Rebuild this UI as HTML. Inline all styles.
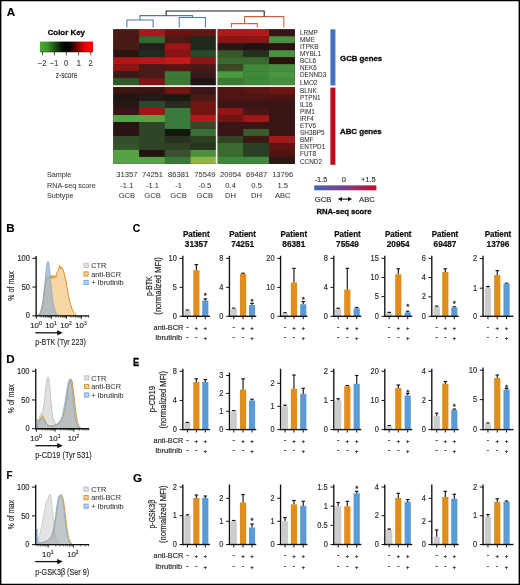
<!DOCTYPE html>
<html lang="en">
<head>
<meta charset="utf-8">
<title>Figure</title>
<style>
html,body{margin:0;padding:0;background:#fff;}
body{width:520px;height:585px;overflow:hidden;}
svg{display:block;font-family:"Liberation Sans", sans-serif;}
</style>
</head>
<body>
<svg width="520" height="585" viewBox="0 0 520 585">
<defs>
<linearGradient id="gkey" x1="0" x2="1" y1="0" y2="0">
<stop offset="0" stop-color="#4aac2e"/><stop offset="0.14" stop-color="#3c9626"/><stop offset="0.38" stop-color="#0c2006"/><stop offset="0.46" stop-color="#020202"/><stop offset="0.56" stop-color="#050000"/><stop offset="0.76" stop-color="#a50000"/><stop offset="0.9" stop-color="#ff0202"/><stop offset="1" stop-color="#ee0505"/>
</linearGradient>
<linearGradient id="grna" x1="0" x2="1" y1="0" y2="0">
<stop offset="0" stop-color="#4468bd"/><stop offset="0.5" stop-color="#803a82"/><stop offset="1" stop-color="#c20d2a"/>
</linearGradient>
</defs>
<rect x="0" y="0" width="520" height="585" fill="#fff"/>
<g id="panelA">
<text x="6.7" y="15.5" font-size="11.6" font-weight="bold" fill="#000" stroke="#000" stroke-width="0.15">A</text>
<text x="66.3" y="35.3" font-size="7.9" font-weight="bold" text-anchor="middle" fill="#111" stroke="#000" stroke-width="0.3">Color Key</text>
<rect x="39.9" y="41.6" width="53.1" height="10.4" fill="url(#gkey)"/>
<line x1="39.9" y1="52" x2="93" y2="52" stroke="#2a1a10" stroke-width="0.7" stroke-opacity="0.7"/>
<line x1="42.5" y1="51.9" x2="42.5" y2="55.4" stroke="#222" stroke-width="0.8" />
<line x1="54.4" y1="51.9" x2="54.4" y2="55.4" stroke="#222" stroke-width="0.8" />
<line x1="66.3" y1="51.9" x2="66.3" y2="55.4" stroke="#222" stroke-width="0.8" />
<line x1="78.6" y1="51.9" x2="78.6" y2="55.4" stroke="#222" stroke-width="0.8" />
<line x1="90.8" y1="51.9" x2="90.8" y2="55.4" stroke="#222" stroke-width="0.8" />
<text x="42.2" y="65.6" font-size="8.3" text-anchor="middle" fill="#444" stroke="#444" stroke-width="0.16" textLength="8.8" lengthAdjust="spacingAndGlyphs">−2</text>
<text x="54.2" y="65.6" font-size="8.3" text-anchor="middle" fill="#444" stroke="#444" stroke-width="0.16" textLength="8.2" lengthAdjust="spacingAndGlyphs">−1</text>
<text x="66.1" y="65.6" font-size="8.3" text-anchor="middle" fill="#444" stroke="#444" stroke-width="0.16" textLength="4.2" lengthAdjust="spacingAndGlyphs">0</text>
<text x="78.9" y="65.6" font-size="8.3" text-anchor="middle" fill="#444" stroke="#444" stroke-width="0.16" textLength="4.2" lengthAdjust="spacingAndGlyphs">1</text>
<text x="90.7" y="65.6" font-size="8.3" text-anchor="middle" fill="#444" stroke="#444" stroke-width="0.16" textLength="4.2" lengthAdjust="spacingAndGlyphs">2</text>
<text x="66.6" y="77.6" font-size="8.6" text-anchor="middle" fill="#444" stroke="#444" stroke-width="0.16" textLength="21.6" lengthAdjust="spacingAndGlyphs">z-score</text>
<path d="M126.9 27.6V19.9H153.1V27.6 M179.2 27.6V17.4H205.4V27.6 M139.9 19.9V15.6H192.5V17.4" stroke="#4f74ad" fill="none" stroke-width="1.05" />
<path d="M231.4 27.6V23.6H257.3V27.6 M244.6 23.6V16.6H283.8V27.6" stroke="#c9603f" fill="none" stroke-width="1.05" />
<path d="M166.2 15.6V11H264.2V16.6" stroke="#1a1a1a" fill="none" stroke-width="1.05" />
<g>
<rect x="113.3" y="29.3" width="181.6" height="134.58" fill="#3a1a15" />
<rect x="113.3" y="29.3" width="26.05" height="7.28" fill="#4a1a16" />
<rect x="139.05" y="29.3" width="26.05" height="7.28" fill="#a51a1a" />
<rect x="164.8" y="29.3" width="26.05" height="7.28" fill="#6c1210" />
<rect x="190.55" y="29.3" width="26.35" height="7.28" fill="#651512" />
<rect x="216.6" y="29.3" width="26.9" height="7.28" fill="#ad1a1a" />
<rect x="243.2" y="29.3" width="26.1" height="7.28" fill="#b01a1a" />
<rect x="269" y="29.3" width="25.9" height="7.28" fill="#381512" />
<rect x="113.3" y="36.28" width="26.05" height="7.28" fill="#4a1a16" />
<rect x="139.05" y="36.28" width="26.05" height="7.28" fill="#2f6a32" />
<rect x="164.8" y="36.28" width="26.05" height="7.28" fill="#4a1a16" />
<rect x="190.55" y="36.28" width="26.35" height="7.28" fill="#1f2a1f" />
<rect x="216.6" y="36.28" width="52.7" height="7.28" fill="#8a1515" />
<rect x="269" y="36.28" width="25.9" height="7.28" fill="#4a9040" />
<rect x="113.3" y="43.26" width="26.05" height="7.28" fill="#481a16" />
<rect x="139.05" y="43.26" width="26.05" height="7.28" fill="#241f1a" />
<rect x="164.8" y="43.26" width="26.05" height="7.28" fill="#9e1515" />
<rect x="190.55" y="43.26" width="26.35" height="7.28" fill="#1f2a1f" />
<rect x="216.6" y="43.26" width="26.9" height="7.28" fill="#2a1515" />
<rect x="243.2" y="43.26" width="26.1" height="7.28" fill="#1f1210" />
<rect x="269" y="43.26" width="25.9" height="7.28" fill="#2a1210" />
<rect x="113.3" y="50.24" width="26.05" height="7.28" fill="#2a1412" />
<rect x="139.05" y="50.24" width="26.05" height="7.28" fill="#1f2a20" />
<rect x="164.8" y="50.24" width="26.05" height="7.28" fill="#8a1212" />
<rect x="190.55" y="50.24" width="26.35" height="7.28" fill="#2a4a28" />
<rect x="216.6" y="50.24" width="26.9" height="7.28" fill="#38582a" />
<rect x="243.2" y="50.24" width="26.1" height="7.28" fill="#25301f" />
<rect x="269" y="50.24" width="25.9" height="7.28" fill="#4a9040" />
<rect x="113.3" y="57.22" width="26.05" height="7.28" fill="#b01818" />
<rect x="139.05" y="57.22" width="26.05" height="7.28" fill="#b81818" />
<rect x="164.8" y="57.22" width="26.05" height="7.28" fill="#c41a1a" />
<rect x="190.55" y="57.22" width="26.35" height="7.28" fill="#8a1515" />
<rect x="216.6" y="57.22" width="52.7" height="7.28" fill="#3a6a30" />
<rect x="269" y="57.22" width="25.9" height="7.28" fill="#2a1210" />
<rect x="113.3" y="64.2" width="26.05" height="7.28" fill="#8e1515" />
<rect x="139.05" y="64.2" width="26.05" height="7.28" fill="#4a1a16" />
<rect x="164.8" y="64.2" width="26.05" height="7.28" fill="#5a1512" />
<rect x="190.55" y="64.2" width="26.35" height="7.28" fill="#4a1a18" />
<rect x="216.6" y="64.2" width="26.9" height="7.28" fill="#3a4a25" />
<rect x="243.2" y="64.2" width="26.1" height="7.28" fill="#3f8a3a" />
<rect x="269" y="64.2" width="25.9" height="7.28" fill="#45903f" />
<rect x="113.3" y="71.18" width="26.05" height="7.28" fill="#3a1a15" />
<rect x="139.05" y="71.18" width="26.05" height="7.28" fill="#4a1a18" />
<rect x="164.8" y="71.18" width="26.05" height="7.28" fill="#3a7a36" />
<rect x="190.55" y="71.18" width="26.35" height="7.28" fill="#3a1a18" />
<rect x="216.6" y="71.18" width="26.9" height="7.28" fill="#4a9a40" />
<rect x="243.2" y="71.18" width="26.1" height="7.28" fill="#3f8a3a" />
<rect x="269" y="71.18" width="25.9" height="7.28" fill="#4a9540" />
<rect x="113.3" y="78.16" width="26.05" height="8.24" fill="#2f5a2a" />
<rect x="139.05" y="78.16" width="26.05" height="8.24" fill="#801515" />
<rect x="164.8" y="78.16" width="26.05" height="8.24" fill="#3a7a36" />
<rect x="190.55" y="78.16" width="26.35" height="8.24" fill="#1f1512" />
<rect x="216.6" y="78.16" width="26.9" height="8.24" fill="#3a7a35" />
<rect x="243.2" y="78.16" width="26.1" height="8.24" fill="#3f8a3a" />
<rect x="269" y="78.16" width="25.9" height="8.24" fill="#45903f" />
<rect x="113.3" y="86.1" width="51.8" height="8.28" fill="#3a1512" />
<rect x="164.8" y="86.1" width="26.05" height="8.28" fill="#701512" />
<rect x="190.55" y="86.1" width="26.35" height="8.28" fill="#3a1515" />
<rect x="216.6" y="86.1" width="26.9" height="8.28" fill="#501512" />
<rect x="243.2" y="86.1" width="26.1" height="8.28" fill="#5a1515" />
<rect x="269" y="86.1" width="25.9" height="8.28" fill="#701512" />
<rect x="113.3" y="94.08" width="26.05" height="7.28" fill="#1f1512" />
<rect x="139.05" y="94.08" width="26.05" height="7.28" fill="#251a15" />
<rect x="164.8" y="94.08" width="26.05" height="7.28" fill="#1a1a12" />
<rect x="190.55" y="94.08" width="26.35" height="7.28" fill="#4a1a15" />
<rect x="216.6" y="94.08" width="52.7" height="7.28" fill="#501512" />
<rect x="269" y="94.08" width="25.9" height="7.28" fill="#4a1512" />
<rect x="113.3" y="101.06" width="26.05" height="7.28" fill="#2a1515" />
<rect x="139.05" y="101.06" width="26.05" height="7.28" fill="#2a4a30" />
<rect x="164.8" y="101.06" width="26.05" height="7.28" fill="#2a2a1f" />
<rect x="190.55" y="101.06" width="26.35" height="7.28" fill="#701512" />
<rect x="216.6" y="101.06" width="78.3" height="7.28" fill="#3a1515" />
<rect x="113.3" y="108.04" width="26.05" height="7.28" fill="#3a1515" />
<rect x="139.05" y="108.04" width="26.05" height="7.28" fill="#a01515" />
<rect x="164.8" y="108.04" width="26.05" height="7.28" fill="#3a7a3a" />
<rect x="190.55" y="108.04" width="26.35" height="7.28" fill="#751512" />
<rect x="216.6" y="108.04" width="26.9" height="7.28" fill="#901515" />
<rect x="243.2" y="108.04" width="26.1" height="7.28" fill="#4a1515" />
<rect x="269" y="108.04" width="25.9" height="7.28" fill="#3a1515" />
<rect x="113.3" y="115.02" width="51.8" height="7.28" fill="#55a344" />
<rect x="164.8" y="115.02" width="26.05" height="7.28" fill="#3a7a3a" />
<rect x="190.55" y="115.02" width="26.35" height="7.28" fill="#b01a1a" />
<rect x="216.6" y="115.02" width="26.9" height="7.28" fill="#701512" />
<rect x="243.2" y="115.02" width="26.1" height="7.28" fill="#a01818" />
<rect x="269" y="115.02" width="25.9" height="7.28" fill="#3a1515" />
<rect x="113.3" y="122" width="26.05" height="7.28" fill="#2a1515" />
<rect x="139.05" y="122" width="26.05" height="7.28" fill="#2f4525" />
<rect x="164.8" y="122" width="26.05" height="7.28" fill="#3a7a3a" />
<rect x="190.55" y="122" width="26.35" height="7.28" fill="#2f4a28" />
<rect x="216.6" y="122" width="78.3" height="7.28" fill="#3a1515" />
<rect x="113.3" y="128.98" width="26.05" height="7.28" fill="#2a1512" />
<rect x="139.05" y="128.98" width="26.05" height="7.28" fill="#2f4525" />
<rect x="164.8" y="128.98" width="26.05" height="7.28" fill="#15180f" />
<rect x="190.55" y="128.98" width="26.35" height="7.28" fill="#3a7035" />
<rect x="216.6" y="128.98" width="26.9" height="7.28" fill="#3a1515" />
<rect x="243.2" y="128.98" width="26.1" height="7.28" fill="#3a5a30" />
<rect x="269" y="128.98" width="25.9" height="7.28" fill="#3a1515" />
<rect x="113.3" y="135.96" width="26.05" height="7.28" fill="#34502a" />
<rect x="139.05" y="135.96" width="26.05" height="7.28" fill="#2f4525" />
<rect x="164.8" y="135.96" width="26.05" height="7.28" fill="#2a3020" />
<rect x="190.55" y="135.96" width="26.35" height="7.28" fill="#2a4020" />
<rect x="216.6" y="135.96" width="26.9" height="7.28" fill="#2f4525" />
<rect x="243.2" y="135.96" width="26.1" height="7.28" fill="#3a1a15" />
<rect x="269" y="135.96" width="25.9" height="7.28" fill="#a01a1a" />
<rect x="113.3" y="142.94" width="26.05" height="7.28" fill="#34552a" />
<rect x="139.05" y="142.94" width="26.05" height="7.28" fill="#2f4525" />
<rect x="164.8" y="142.94" width="26.05" height="7.28" fill="#2f4025" />
<rect x="190.55" y="142.94" width="26.35" height="7.28" fill="#25351f" />
<rect x="216.6" y="142.94" width="26.9" height="7.28" fill="#3a6a30" />
<rect x="243.2" y="142.94" width="26.1" height="7.28" fill="#2a4025" />
<rect x="269" y="142.94" width="25.9" height="7.28" fill="#601512" />
<rect x="113.3" y="149.92" width="26.05" height="7.28" fill="#55a344" />
<rect x="139.05" y="149.92" width="26.05" height="7.28" fill="#251512" />
<rect x="164.8" y="149.92" width="26.05" height="7.28" fill="#3a5030" />
<rect x="190.55" y="149.92" width="26.35" height="7.28" fill="#4a9040" />
<rect x="216.6" y="149.92" width="26.9" height="7.28" fill="#3a6a30" />
<rect x="243.2" y="149.92" width="26.1" height="7.28" fill="#2a4025" />
<rect x="269" y="149.92" width="25.9" height="7.28" fill="#501512" />
<rect x="113.3" y="156.9" width="51.8" height="6.98" fill="#55a344" />
<rect x="164.8" y="156.9" width="26.05" height="6.98" fill="#357a35" />
<rect x="190.55" y="156.9" width="26.35" height="6.98" fill="#90b840" />
<rect x="216.6" y="156.9" width="52.7" height="6.98" fill="#3f8a3a" />
<rect x="269" y="156.9" width="25.9" height="6.98" fill="#2a1a12" />
<line x1="216.65" y1="29" x2="216.65" y2="164.18" stroke="#f6f2f2" stroke-width="1.6" />
<line x1="113" y1="86.1" x2="295.2" y2="86.1" stroke="#f6f2f2" stroke-width="1.6" />
</g>
<text x="300" y="34.8" font-size="6.4" fill="#333" stroke="#333" stroke-width="0.06">LRMP</text>
<text x="300" y="41.9" font-size="6.4" fill="#333" stroke="#333" stroke-width="0.06">MME</text>
<text x="300" y="49" font-size="6.4" fill="#333" stroke="#333" stroke-width="0.06">ITPKB</text>
<text x="300" y="56.1" font-size="6.4" fill="#333" stroke="#333" stroke-width="0.06">MYBL1</text>
<text x="300" y="63.2" font-size="6.4" fill="#333" stroke="#333" stroke-width="0.06">BCL6</text>
<text x="300" y="70.3" font-size="6.4" fill="#333" stroke="#333" stroke-width="0.06">NEK6</text>
<text x="300" y="77.4" font-size="6.4" fill="#333" stroke="#333" stroke-width="0.06">DENND3</text>
<text x="300" y="84.5" font-size="6.4" fill="#333" stroke="#333" stroke-width="0.06">LMO2</text>
<text x="300" y="92.5" font-size="6.4" fill="#333" stroke="#333" stroke-width="0.06">BLNK</text>
<text x="300" y="99.6" font-size="6.4" fill="#333" stroke="#333" stroke-width="0.06">PTPN1</text>
<text x="300" y="106.7" font-size="6.4" fill="#333" stroke="#333" stroke-width="0.06">IL16</text>
<text x="300" y="113.8" font-size="6.4" fill="#333" stroke="#333" stroke-width="0.06">PIM1</text>
<text x="300" y="120.9" font-size="6.4" fill="#333" stroke="#333" stroke-width="0.06">IRF4</text>
<text x="300" y="128" font-size="6.4" fill="#333" stroke="#333" stroke-width="0.06">ETV6</text>
<text x="300" y="135.1" font-size="6.4" fill="#333" stroke="#333" stroke-width="0.06">SH3BP5</text>
<text x="300" y="142.2" font-size="6.4" fill="#333" stroke="#333" stroke-width="0.06">BMF</text>
<text x="300" y="149.3" font-size="6.4" fill="#333" stroke="#333" stroke-width="0.06">ENTPD1</text>
<text x="300" y="156.4" font-size="6.4" fill="#333" stroke="#333" stroke-width="0.06">FUT8</text>
<text x="300" y="163.5" font-size="6.4" fill="#333" stroke="#333" stroke-width="0.06">CCND2</text>
<rect x="330.4" y="29.3" width="5" height="56.2" fill="#4673c0" />
<rect x="330.4" y="87.6" width="5" height="77.2" fill="#c10a1c" />
<text x="340.1" y="60.9" font-size="7.8" font-weight="bold" fill="#111" stroke="#000" stroke-width="0.3">GCB genes</text>
<text x="340.1" y="133.8" font-size="7.8" font-weight="bold" fill="#111" stroke="#000" stroke-width="0.3">ABC genes</text>
<text x="47" y="177.1" font-size="7.2" fill="#383838" stroke="#383838" stroke-width="0.05">Sample</text>
<text x="47" y="187.8" font-size="7.2" fill="#383838" stroke="#383838" stroke-width="0.05">RNA-seq score</text>
<text x="47" y="198.3" font-size="7.2" fill="#383838" stroke="#383838" stroke-width="0.05">Subtype</text>
<text x="126.9" y="177.1" font-size="7.6" text-anchor="middle" fill="#383838" stroke="#383838" stroke-width="0.05">31357</text>
<text x="152.5" y="177.1" font-size="7.6" text-anchor="middle" fill="#383838" stroke="#383838" stroke-width="0.05">74251</text>
<text x="178.6" y="177.1" font-size="7.6" text-anchor="middle" fill="#383838" stroke="#383838" stroke-width="0.05">86381</text>
<text x="204.8" y="177.1" font-size="7.6" text-anchor="middle" fill="#383838" stroke="#383838" stroke-width="0.05">75549</text>
<text x="230.6" y="177.1" font-size="7.6" text-anchor="middle" fill="#383838" stroke="#383838" stroke-width="0.05">20954</text>
<text x="256.6" y="177.1" font-size="7.6" text-anchor="middle" fill="#383838" stroke="#383838" stroke-width="0.05">69487</text>
<text x="282.7" y="177.1" font-size="7.6" text-anchor="middle" fill="#383838" stroke="#383838" stroke-width="0.05">13796</text>
<text x="126.9" y="187.8" font-size="7.6" text-anchor="middle" fill="#383838" stroke="#383838" stroke-width="0.05">-1.1</text>
<text x="152.5" y="187.8" font-size="7.6" text-anchor="middle" fill="#383838" stroke="#383838" stroke-width="0.05">-1.1</text>
<text x="178.6" y="187.8" font-size="7.6" text-anchor="middle" fill="#383838" stroke="#383838" stroke-width="0.05">-1</text>
<text x="204.8" y="187.8" font-size="7.6" text-anchor="middle" fill="#383838" stroke="#383838" stroke-width="0.05">-0.5</text>
<text x="230.6" y="187.8" font-size="7.6" text-anchor="middle" fill="#383838" stroke="#383838" stroke-width="0.05">0.4</text>
<text x="256.6" y="187.8" font-size="7.6" text-anchor="middle" fill="#383838" stroke="#383838" stroke-width="0.05">0.5</text>
<text x="282.7" y="187.8" font-size="7.6" text-anchor="middle" fill="#383838" stroke="#383838" stroke-width="0.05">1.5</text>
<text x="126.9" y="198.3" font-size="7.6" text-anchor="middle" fill="#383838" stroke="#383838" stroke-width="0.05">GCB</text>
<text x="152.5" y="198.3" font-size="7.6" text-anchor="middle" fill="#383838" stroke="#383838" stroke-width="0.05">GCB</text>
<text x="178.6" y="198.3" font-size="7.6" text-anchor="middle" fill="#383838" stroke="#383838" stroke-width="0.05">GCB</text>
<text x="204.8" y="198.3" font-size="7.6" text-anchor="middle" fill="#383838" stroke="#383838" stroke-width="0.05">GCB</text>
<text x="230.6" y="198.3" font-size="7.6" text-anchor="middle" fill="#383838" stroke="#383838" stroke-width="0.05">DH</text>
<text x="256.6" y="198.3" font-size="7.6" text-anchor="middle" fill="#383838" stroke="#383838" stroke-width="0.05">DH</text>
<text x="282.7" y="198.3" font-size="7.6" text-anchor="middle" fill="#383838" stroke="#383838" stroke-width="0.05">ABC</text>
<text x="321" y="182.4" font-size="7.4" text-anchor="middle" fill="#333" stroke="#333" stroke-width="0.16">-1.5</text>
<text x="343.8" y="182.4" font-size="7.4" text-anchor="middle" fill="#333" stroke="#333" stroke-width="0.16">0</text>
<text x="368.3" y="182.4" font-size="7.4" text-anchor="middle" fill="#333" stroke="#333" stroke-width="0.16">+1.5</text>
<rect x="314.2" y="185.4" width="62.2" height="4.9" fill="url(#grna)"/>
<text x="314.8" y="201.8" font-size="7.7" fill="#333" stroke="#333" stroke-width="0.16">GCB</text>
<text x="359" y="201.8" font-size="7.7" fill="#333" stroke="#333" stroke-width="0.16">ABC</text>
<line x1="340.5" y1="199.1" x2="349.5" y2="199.1" stroke="#111" stroke-width="1.1" />
<path d="M337.8 199.1L342 196.9V201.3Z M352.2 199.1L348 196.9V201.3Z" stroke="none" fill="#111" stroke-width="1" />
<text x="344" y="213.6" font-size="7.7" font-weight="bold" text-anchor="middle" fill="#111" stroke="#000" stroke-width="0.3">RNA-seq score</text>
</g>
<g id="panelB">
<text x="6.2" y="232.1" font-size="11.6" font-weight="bold" fill="#000" stroke="#000" stroke-width="0.15">B</text>
<path d="M37.3 315.8L37.3 315.3C37.79 314.89 39.06 315.21 40 313C40.94 310.79 41.67 307.86 42.5 303C43.33 298.14 43.9 292.21 44.6 286C45.3 279.79 45.84 272.77 46.4 268.5C46.96 264.23 47.23 262.75 47.7 262.3C48.17 261.85 48.48 262.63 49 266C49.52 269.37 49.95 274.88 50.6 281C51.25 287.12 51.81 294.6 52.6 300C53.39 305.4 53.94 308.25 55 311C56.06 313.75 57.87 314.53 58.5 315.3L58.5 315.8Z" stroke="#b9b9b9" fill="#b4b4b4" stroke-width="0.6" fill-opacity="0.45" stroke-linejoin="round"/>
<path d="M38 315.8L38 315.3C38.45 314.92 39.62 315.32 40.5 313.2C41.38 311.08 42.13 307.86 42.9 303.5C43.67 299.14 44.21 293.14 44.8 289C45.39 284.86 45.77 282.59 46.2 280.5C46.63 278.41 46.8 277.81 47.2 277.4C47.6 276.99 47.93 278.45 48.4 278.2C48.87 277.95 49.37 275.93 49.8 276C50.23 276.07 50.4 278.71 50.8 278.6C51.2 278.49 51.57 275.44 52 275.4C52.43 275.36 52.77 278.47 53.2 278.4C53.63 278.33 53.97 275.04 54.4 275C54.83 274.96 55.17 278.56 55.6 278.2C56.03 277.84 56.33 274.37 56.8 273C57.27 271.63 57.7 271.99 58.2 270.6C58.7 269.21 59.13 265.62 59.6 265.3C60.07 264.98 60.4 268.42 60.8 268.8C61.2 269.18 61.44 267.33 61.8 267.4C62.16 267.47 62.37 268.1 62.8 269.2C63.23 270.3 63.64 271.38 64.2 273.5C64.76 275.62 65.29 277.85 65.9 281C66.51 284.15 66.97 287.58 67.6 291C68.23 294.42 68.72 297.12 69.4 300C70.08 302.88 70.66 304.84 71.4 307C72.14 309.16 72.58 310.51 73.5 312C74.42 313.49 75.96 314.71 76.5 315.3L76.5 315.8Z" stroke="#d48f22" fill="#f1b252" stroke-width="1" fill-opacity="0.52" stroke-linejoin="round"/>
<path d="M37.3 315.8L37.3 315.3C37.82 314.89 39.21 315.39 40.2 313C41.19 310.61 41.97 307.04 42.8 302C43.63 296.96 44.12 291.21 44.8 285C45.48 278.79 46.04 271.75 46.6 267.5C47.16 263.25 47.43 261.67 47.9 261.4C48.37 261.13 48.68 262.29 49.2 266C49.72 269.71 50.15 275.7 50.8 282C51.45 288.3 52.01 295.69 52.8 301C53.59 306.31 54.12 308.93 55.2 311.5C56.28 314.07 58.15 314.62 58.8 315.3L58.8 315.8Z" stroke="#7eaad8" fill="#7fb0e6" stroke-width="0.7" fill-opacity="0.48" stroke-linejoin="round"/>
<line x1="36.15" y1="255.9" x2="36.15" y2="316.45" stroke="#111" stroke-width="1.35" />
<line x1="35.55" y1="315.8" x2="89.2" y2="315.8" stroke="#111" stroke-width="1.35" />
<line x1="32.35" y1="258.3" x2="36.15" y2="258.3" stroke="#111" stroke-width="1" />
<text x="29.95" y="260.95" font-size="8.2" text-anchor="end" fill="#2a2a2a" stroke="#2a2a2a" stroke-width="0.16" textLength="12.5" lengthAdjust="spacingAndGlyphs">100</text>
<line x1="32.35" y1="287.05" x2="36.15" y2="287.05" stroke="#111" stroke-width="1" />
<text x="29.95" y="289.7" font-size="8.2" text-anchor="end" fill="#2a2a2a" stroke="#2a2a2a" stroke-width="0.16" textLength="8.3" lengthAdjust="spacingAndGlyphs">50</text>
<line x1="32.35" y1="315.8" x2="36.15" y2="315.8" stroke="#111" stroke-width="1" />
<text x="29.95" y="318.45" font-size="8.2" text-anchor="end" fill="#2a2a2a" stroke="#2a2a2a" stroke-width="0.16" textLength="4.15" lengthAdjust="spacingAndGlyphs">0</text>
<text x="36" y="328" font-size="7.8" text-anchor="middle" fill="#2a2a2a" stroke="#2a2a2a" stroke-width="0.16">10<tspan dy="-3" font-size="5">0</tspan></text>
<text x="51" y="328" font-size="7.8" text-anchor="middle" fill="#2a2a2a" stroke="#2a2a2a" stroke-width="0.16">10<tspan dy="-3" font-size="5">1</tspan></text>
<text x="66" y="328" font-size="7.8" text-anchor="middle" fill="#2a2a2a" stroke="#2a2a2a" stroke-width="0.16">10<tspan dy="-3" font-size="5">2</tspan></text>
<text x="81" y="328" font-size="7.8" text-anchor="middle" fill="#2a2a2a" stroke="#2a2a2a" stroke-width="0.16">10<tspan dy="-3" font-size="5">3</tspan></text>
<path d="M36.4 315.8v3M51.4 315.8v3M66.4 315.8v3M81.4 315.8v3" stroke="#111" fill="none" stroke-width="0.9" />
<path d="M40.92 315.8v1.9M43.56 315.8v1.9M45.43 315.8v1.9M46.88 315.8v1.9M48.07 315.8v1.9M49.08 315.8v1.9M49.95 315.8v1.9M50.71 315.8v1.9M55.92 315.8v1.9M58.56 315.8v1.9M60.43 315.8v1.9M61.88 315.8v1.9M63.07 315.8v1.9M64.08 315.8v1.9M64.95 315.8v1.9M65.71 315.8v1.9M70.92 315.8v1.9M73.56 315.8v1.9M75.43 315.8v1.9M76.88 315.8v1.9M78.07 315.8v1.9M79.08 315.8v1.9M79.95 315.8v1.9M80.71 315.8v1.9M85.92 315.8v1.9M88.56 315.8v1.9" stroke="#111" fill="none" stroke-width="0.6" />
<line x1="35.3" y1="332.8" x2="58.5" y2="332.8" stroke="#111" stroke-width="1.3" />
<path d="M62.8 332.8L57.2 330.2V335.40000000000003Z" stroke="none" fill="#111" stroke-width="1" />
<text x="35.2" y="344.8" font-size="9.8" fill="#2a2a2a" stroke="#2a2a2a" stroke-width="0.16" textLength="50.6" lengthAdjust="spacingAndGlyphs">p-BTK (Tyr 223)</text>
<text x="14.1" y="285.95" font-size="9.8" text-anchor="middle" fill="#2a2a2a" stroke="#2a2a2a" stroke-width="0.16" textLength="29.5" lengthAdjust="spacingAndGlyphs" transform="rotate(-90 14.1 285.95)">% of max</text>
<rect x="84" y="263.3" width="4.2" height="4.2" fill="#e2e2e2" stroke="#bcbcbc" stroke-width="0.9"/>
<text x="91.2" y="268.05" font-size="7.35" fill="#3a3a3a" stroke="#3a3a3a" stroke-width="0.08">CTR</text>
<rect x="84" y="271.85" width="4.2" height="4.2" fill="#f3cf94" stroke="#d48f22" stroke-width="0.9"/>
<text x="91.2" y="276.6" font-size="7.35" fill="#3a3a3a" stroke="#3a3a3a" stroke-width="0.08">anti-BCR</text>
<rect x="84" y="280.4" width="4.2" height="4.2" fill="#b5d3ef" stroke="#6fa3d6" stroke-width="0.9"/>
<text x="91.2" y="285.15" font-size="7.35" fill="#3a3a3a" stroke="#3a3a3a" stroke-width="0.08">+ Ibrutinib</text>
</g>
<g id="panelD">
<text x="6.2" y="363.3" font-size="11.6" font-weight="bold" fill="#000" stroke="#000" stroke-width="0.15">D</text>
<path d="M37.3 428.7L37.3 428C37.52 427.28 37.98 426.34 38.5 424C39.02 421.66 39.57 417.07 40.2 415C40.83 412.93 41.41 413.76 42 412.5C42.59 411.24 42.96 410.97 43.5 408C44.04 405.03 44.48 400.5 45 396C45.52 391.5 45.88 386.46 46.4 383C46.92 379.54 47.4 377.16 47.9 376.8C48.4 376.44 48.71 377.36 49.2 381C49.69 384.64 50.04 391.06 50.6 397C51.16 402.94 51.63 409.59 52.3 414C52.97 418.41 53.45 419.61 54.3 421.5C55.15 423.39 55.97 424.32 57 424.5C58.03 424.68 58.92 423.85 60 422.5C61.08 421.15 61.92 420.33 63 417C64.08 413.67 65.03 409.58 66 404C66.97 398.42 67.64 390.39 68.4 386C69.16 381.61 69.59 379.96 70.2 379.6C70.81 379.24 71.22 380.33 71.8 384C72.38 387.67 72.79 394.24 73.4 400C74.01 405.76 74.48 411.5 75.2 416C75.92 420.5 76.54 422.84 77.4 425C78.26 427.16 79.53 427.46 80 428L80 428.7Z" stroke="#b9b9b9" fill="#b4b4b4" stroke-width="0.8" fill-opacity="0.4" stroke-linejoin="round"/>
<path d="M37.3 428.7L37.3 424C37.61 423.46 38.33 422.17 39 421C39.67 419.83 40.33 418.47 41 417.5C41.67 416.53 42.12 415.42 42.7 415.6C43.28 415.78 43.52 417.08 44.2 418.5C44.88 419.92 45.46 422.15 46.5 423.5C47.54 424.85 48.65 425.64 50 426C51.35 426.36 52.56 425.95 54 425.5C55.44 425.05 56.56 424.67 58 423.5C59.44 422.33 60.65 422.15 62 419C63.35 415.85 64.38 411.58 65.5 406C66.62 400.42 67.32 392.79 68.2 388C69.08 383.21 69.68 380.48 70.4 379.4C71.12 378.32 71.55 379.01 72.2 382C72.85 384.99 73.32 390.42 74 396C74.68 401.58 75.28 408.05 76 413C76.72 417.95 77.21 420.8 78 423.5C78.79 426.2 79.97 427.19 80.4 428L80.4 428.7Z" stroke="#d48f22" fill="#f1b252" stroke-width="0.9" fill-opacity="0.44" stroke-linejoin="round"/>
<path d="M37.3 428.7L37.3 419C37.53 419.54 38.02 421.82 38.6 422C39.18 422.18 39.8 420.72 40.5 420C41.2 419.28 41.78 417.82 42.5 418C43.22 418.18 43.69 419.83 44.5 421C45.31 422.17 45.92 423.55 47 424.5C48.08 425.45 49.15 426.16 50.5 426.3C51.85 426.44 53.06 425.98 54.5 425.3C55.94 424.62 57.15 424.08 58.5 422.5C59.85 420.92 60.83 420.19 62 416.5C63.17 412.81 63.99 407.49 65 402C66.01 396.51 66.77 390.1 67.6 386C68.43 381.9 68.93 379.74 69.6 379.2C70.27 378.66 70.69 379.62 71.3 383C71.91 386.38 72.37 392.33 73 398C73.63 403.67 74.12 409.82 74.8 414.5C75.48 419.18 76.01 421.57 76.8 424C77.59 426.43 78.77 427.28 79.2 428L79.2 428.7Z" stroke="#7eaad8" fill="#7fb0e6" stroke-width="0.8" fill-opacity="0.44" stroke-linejoin="round"/>
<line x1="35.75" y1="368.8" x2="35.75" y2="429.35" stroke="#111" stroke-width="1.35" />
<line x1="35.15" y1="428.7" x2="89.2" y2="428.7" stroke="#111" stroke-width="1.35" />
<line x1="31.95" y1="371.2" x2="35.75" y2="371.2" stroke="#111" stroke-width="1" />
<text x="29.55" y="373.85" font-size="8.2" text-anchor="end" fill="#2a2a2a" stroke="#2a2a2a" stroke-width="0.16" textLength="12.5" lengthAdjust="spacingAndGlyphs">100</text>
<line x1="31.95" y1="399.95" x2="35.75" y2="399.95" stroke="#111" stroke-width="1" />
<text x="29.55" y="402.6" font-size="8.2" text-anchor="end" fill="#2a2a2a" stroke="#2a2a2a" stroke-width="0.16" textLength="8.3" lengthAdjust="spacingAndGlyphs">50</text>
<line x1="31.95" y1="428.7" x2="35.75" y2="428.7" stroke="#111" stroke-width="1" />
<text x="29.55" y="431.35" font-size="8.2" text-anchor="end" fill="#2a2a2a" stroke="#2a2a2a" stroke-width="0.16" textLength="4.15" lengthAdjust="spacingAndGlyphs">0</text>
<text x="36" y="440.9" font-size="7.8" text-anchor="middle" fill="#2a2a2a" stroke="#2a2a2a" stroke-width="0.16">10<tspan dy="-3" font-size="5">0</tspan></text>
<text x="54.7" y="440.9" font-size="7.8" text-anchor="middle" fill="#2a2a2a" stroke="#2a2a2a" stroke-width="0.16">10<tspan dy="-3" font-size="5">1</tspan></text>
<text x="73.4" y="440.9" font-size="7.8" text-anchor="middle" fill="#2a2a2a" stroke="#2a2a2a" stroke-width="0.16">10<tspan dy="-3" font-size="5">2</tspan></text>
<path d="M36.4 428.7v3M55.1 428.7v3M73.8 428.7v3" stroke="#111" fill="none" stroke-width="0.9" />
<path d="M42.03 428.7v1.9M45.32 428.7v1.9M47.66 428.7v1.9M49.47 428.7v1.9M50.95 428.7v1.9M52.2 428.7v1.9M53.29 428.7v1.9M54.24 428.7v1.9M60.73 428.7v1.9M64.02 428.7v1.9M66.36 428.7v1.9M68.17 428.7v1.9M69.65 428.7v1.9M70.9 428.7v1.9M71.99 428.7v1.9M72.94 428.7v1.9M79.43 428.7v1.9M82.72 428.7v1.9M85.06 428.7v1.9M86.87 428.7v1.9M88.35 428.7v1.9" stroke="#111" fill="none" stroke-width="0.6" />
<line x1="35.3" y1="445.7" x2="58.5" y2="445.7" stroke="#111" stroke-width="1.3" />
<path d="M62.8 445.7L57.2 443.09999999999997V448.3Z" stroke="none" fill="#111" stroke-width="1" />
<text x="35.2" y="458.3" font-size="9.8" fill="#2a2a2a" stroke="#2a2a2a" stroke-width="0.16" textLength="56.6" lengthAdjust="spacingAndGlyphs">p-CD19 (Tyr 531)</text>
<text x="14.1" y="398.85" font-size="9.8" text-anchor="middle" fill="#2a2a2a" stroke="#2a2a2a" stroke-width="0.16" textLength="29.5" lengthAdjust="spacingAndGlyphs" transform="rotate(-90 14.1 398.85)">% of max</text>
<rect x="84.6" y="375.8" width="4.2" height="4.2" fill="#e2e2e2" stroke="#bcbcbc" stroke-width="0.9"/>
<text x="91.2" y="380.55" font-size="7.35" fill="#3a3a3a" stroke="#3a3a3a" stroke-width="0.08">CTR</text>
<rect x="84.6" y="384.35" width="4.2" height="4.2" fill="#f3cf94" stroke="#d48f22" stroke-width="0.9"/>
<text x="91.2" y="389.1" font-size="7.35" fill="#3a3a3a" stroke="#3a3a3a" stroke-width="0.08">anti-BCR</text>
<rect x="84.6" y="392.9" width="4.2" height="4.2" fill="#b5d3ef" stroke="#6fa3d6" stroke-width="0.9"/>
<text x="91.2" y="397.65" font-size="7.35" fill="#3a3a3a" stroke="#3a3a3a" stroke-width="0.08">+ Ibrutinib</text>
</g>
<g id="panelF">
<text x="6.4" y="478.5" font-size="10.8" font-weight="bold" fill="#000" textLength="6" lengthAdjust="spacingAndGlyphs" stroke="#000" stroke-width="0.15">F</text>
<path d="M37.3 544.6L37.3 541C37.53 540.55 38.01 540.3 38.6 538.5C39.19 536.7 39.81 534.51 40.6 531C41.39 527.49 42.17 523.32 43 519C43.83 514.68 44.55 510.2 45.2 507C45.85 503.8 46.17 502.42 46.6 501.2C47.03 499.98 47.2 501.14 47.6 500.2C48 499.26 48.37 497.08 48.8 496C49.23 494.92 49.6 494.02 50 494.2C50.4 494.38 50.6 494.52 51 497C51.4 499.48 51.73 503.32 52.2 508C52.67 512.68 53.06 518.14 53.6 523C54.14 527.86 54.55 531.76 55.2 535C55.85 538.24 56.34 539.38 57.2 541C58.06 542.62 59.5 543.46 60 544L60 544.6Z" stroke="#c2c2c2" fill="#b4b4b4" stroke-width="0.8" fill-opacity="0.36" stroke-linejoin="round"/>
<path d="M37.3 544.6L37.3 543.5C38.15 543.37 40.43 543.18 42 542.8C43.57 542.42 44.6 542.08 46 541.4C47.4 540.72 48.54 540.51 49.8 539C51.06 537.49 51.97 536.24 53 533C54.03 529.76 54.69 525.86 55.5 521C56.31 516.14 56.82 510.32 57.5 506C58.18 501.68 58.65 499.02 59.3 497C59.95 494.98 60.47 494.71 61.1 494.8C61.73 494.89 62.21 495.3 62.8 497.5C63.39 499.7 63.79 502.59 64.4 507C65.01 511.41 65.55 517.05 66.2 522C66.85 526.95 67.35 531.08 68 534.5C68.65 537.92 69.08 539.29 69.8 541C70.52 542.71 71.6 543.46 72 544L72 544.6Z" stroke="#d48f22" fill="#f1b252" stroke-width="0.9" fill-opacity="0.45" stroke-linejoin="round"/>
<path d="M36.9 544.6L36.9 529C37.03 530.71 37.22 536.16 37.6 538.5C37.98 540.84 38.21 541.26 39 542C39.79 542.74 40.83 542.71 42 542.6C43.17 542.49 44.19 542.05 45.5 541.4C46.81 540.75 48.02 540.6 49.3 539C50.58 537.4 51.57 535.92 52.6 532.5C53.63 529.08 54.21 524.86 55 520C55.79 515.14 56.33 509.64 57 505.5C57.67 501.36 58.09 498.82 58.7 497C59.31 495.18 59.81 495.22 60.4 495.4C60.99 495.58 61.42 495.73 62 498C62.58 500.27 62.99 503.5 63.6 508C64.21 512.5 64.75 518.14 65.4 523C66.05 527.86 66.55 531.76 67.2 535C67.85 538.24 68.32 539.38 69 541C69.68 542.62 70.64 543.46 71 544L71 544.6Z" stroke="#7eaad8" fill="#7fb0e6" stroke-width="0.8" fill-opacity="0.45" stroke-linejoin="round"/>
<line x1="35.7" y1="484.7" x2="35.7" y2="545.25" stroke="#111" stroke-width="1.35" />
<line x1="35.1" y1="544.6" x2="89.2" y2="544.6" stroke="#111" stroke-width="1.35" />
<line x1="31.9" y1="487.1" x2="35.7" y2="487.1" stroke="#111" stroke-width="1" />
<text x="29.5" y="489.75" font-size="8.2" text-anchor="end" fill="#2a2a2a" stroke="#2a2a2a" stroke-width="0.16" textLength="12.5" lengthAdjust="spacingAndGlyphs">100</text>
<line x1="31.9" y1="515.85" x2="35.7" y2="515.85" stroke="#111" stroke-width="1" />
<text x="29.5" y="518.5" font-size="8.2" text-anchor="end" fill="#2a2a2a" stroke="#2a2a2a" stroke-width="0.16" textLength="8.3" lengthAdjust="spacingAndGlyphs">50</text>
<line x1="31.9" y1="544.6" x2="35.7" y2="544.6" stroke="#111" stroke-width="1" />
<text x="29.5" y="547.25" font-size="8.2" text-anchor="end" fill="#2a2a2a" stroke="#2a2a2a" stroke-width="0.16" textLength="4.15" lengthAdjust="spacingAndGlyphs">0</text>
<text x="47.8" y="556.8" font-size="7.8" text-anchor="middle" fill="#2a2a2a" stroke="#2a2a2a" stroke-width="0.16">10<tspan dy="-3" font-size="5">1</tspan></text>
<text x="72.9" y="556.8" font-size="7.8" text-anchor="middle" fill="#2a2a2a" stroke="#2a2a2a" stroke-width="0.16">10<tspan dy="-3" font-size="5">2</tspan></text>
<path d="M48.2 544.6v3M73.3 544.6v3" stroke="#111" fill="none" stroke-width="0.9" />
<path d="M38.21 544.6v1.9M40.64 544.6v1.9M42.63 544.6v1.9M44.31 544.6v1.9M45.77 544.6v1.9M47.05 544.6v1.9M55.76 544.6v1.9M60.18 544.6v1.9M63.31 544.6v1.9M65.74 544.6v1.9M67.73 544.6v1.9M69.41 544.6v1.9M70.87 544.6v1.9M72.15 544.6v1.9M80.86 544.6v1.9M85.28 544.6v1.9M88.41 544.6v1.9" stroke="#111" fill="none" stroke-width="0.6" />
<line x1="35.3" y1="561.6" x2="58.5" y2="561.6" stroke="#111" stroke-width="1.3" />
<path d="M62.8 561.6L57.2 559V564.2Z" stroke="none" fill="#111" stroke-width="1" />
<text x="35.2" y="574.5" font-size="9.8" fill="#2a2a2a" stroke="#2a2a2a" stroke-width="0.16" textLength="54" lengthAdjust="spacingAndGlyphs">p-GSK3β (Ser 9)</text>
<text x="14.1" y="514.75" font-size="9.8" text-anchor="middle" fill="#2a2a2a" stroke="#2a2a2a" stroke-width="0.16" textLength="29.5" lengthAdjust="spacingAndGlyphs" transform="rotate(-90 14.1 514.75)">% of max</text>
<rect x="84" y="487" width="4.2" height="4.2" fill="#e2e2e2" stroke="#bcbcbc" stroke-width="0.9"/>
<text x="91.2" y="491.75" font-size="7.35" fill="#3a3a3a" stroke="#3a3a3a" stroke-width="0.08">CTR</text>
<rect x="84" y="495.55" width="4.2" height="4.2" fill="#f3cf94" stroke="#d48f22" stroke-width="0.9"/>
<text x="91.2" y="500.3" font-size="7.35" fill="#3a3a3a" stroke="#3a3a3a" stroke-width="0.08">anti-BCR</text>
<rect x="84" y="504.1" width="4.2" height="4.2" fill="#b5d3ef" stroke="#6fa3d6" stroke-width="0.9"/>
<text x="91.2" y="508.85" font-size="7.35" fill="#3a3a3a" stroke="#3a3a3a" stroke-width="0.08">+ Ibrutinib</text>
</g>
<g id="panelC">
<text x="132.7" y="232.2" font-size="11.6" font-weight="bold" fill="#000" textLength="7.5" lengthAdjust="spacingAndGlyphs" stroke="#000" stroke-width="0.15">C</text>
<text x="196.3" y="236.7" font-size="8.4" font-weight="bold" text-anchor="middle" fill="#111" textLength="26.6" lengthAdjust="spacingAndGlyphs" stroke="#000" stroke-width="0.2">Patient</text>
<text x="196.3" y="247.2" font-size="8.5" font-weight="bold" text-anchor="middle" fill="#111" textLength="22.9" lengthAdjust="spacingAndGlyphs" stroke="#000" stroke-width="0.2">31357</text>
<text x="242.6" y="236.7" font-size="8.4" font-weight="bold" text-anchor="middle" fill="#111" textLength="26.6" lengthAdjust="spacingAndGlyphs" stroke="#000" stroke-width="0.2">Patient</text>
<text x="242.6" y="247.2" font-size="8.5" font-weight="bold" text-anchor="middle" fill="#111" textLength="22.9" lengthAdjust="spacingAndGlyphs" stroke="#000" stroke-width="0.2">74251</text>
<text x="293.8" y="236.7" font-size="8.4" font-weight="bold" text-anchor="middle" fill="#111" textLength="26.6" lengthAdjust="spacingAndGlyphs" stroke="#000" stroke-width="0.2">Patient</text>
<text x="293.8" y="247.2" font-size="8.5" font-weight="bold" text-anchor="middle" fill="#111" textLength="22.9" lengthAdjust="spacingAndGlyphs" stroke="#000" stroke-width="0.2">86381</text>
<text x="347.5" y="236.7" font-size="8.4" font-weight="bold" text-anchor="middle" fill="#111" textLength="26.6" lengthAdjust="spacingAndGlyphs" stroke="#000" stroke-width="0.2">Patient</text>
<text x="347.5" y="247.2" font-size="8.5" font-weight="bold" text-anchor="middle" fill="#111" textLength="22.9" lengthAdjust="spacingAndGlyphs" stroke="#000" stroke-width="0.2">75549</text>
<text x="398.2" y="236.7" font-size="8.4" font-weight="bold" text-anchor="middle" fill="#111" textLength="26.6" lengthAdjust="spacingAndGlyphs" stroke="#000" stroke-width="0.2">Patient</text>
<text x="398.2" y="247.2" font-size="8.5" font-weight="bold" text-anchor="middle" fill="#111" textLength="22.9" lengthAdjust="spacingAndGlyphs" stroke="#000" stroke-width="0.2">20954</text>
<text x="445" y="236.7" font-size="8.4" font-weight="bold" text-anchor="middle" fill="#111" textLength="26.6" lengthAdjust="spacingAndGlyphs" stroke="#000" stroke-width="0.2">Patient</text>
<text x="445" y="247.2" font-size="8.5" font-weight="bold" text-anchor="middle" fill="#111" textLength="22.9" lengthAdjust="spacingAndGlyphs" stroke="#000" stroke-width="0.2">69487</text>
<text x="498" y="236.7" font-size="8.4" font-weight="bold" text-anchor="middle" fill="#111" textLength="26.6" lengthAdjust="spacingAndGlyphs" stroke="#000" stroke-width="0.2">Patient</text>
<text x="498" y="247.2" font-size="8.5" font-weight="bold" text-anchor="middle" fill="#111" textLength="22.9" lengthAdjust="spacingAndGlyphs" stroke="#000" stroke-width="0.2">13796</text>
<line x1="187.45" y1="310" x2="187.45" y2="311" stroke="#151515" stroke-width="1.15" />
<line x1="185.65" y1="310" x2="189.25" y2="310" stroke="#151515" stroke-width="1.15" />
<rect x="184.35" y="310.7" width="6.2" height="5.6" fill="#cdcbcd" />
<line x1="196.35" y1="264.6" x2="196.35" y2="270.5" stroke="#151515" stroke-width="1.15" />
<line x1="194.55" y1="264.6" x2="198.15" y2="264.6" stroke="#151515" stroke-width="1.15" />
<rect x="193.25" y="270.2" width="6.2" height="46.1" fill="#e08d1c" />
<line x1="205.3" y1="298.8" x2="205.3" y2="300.9" stroke="#151515" stroke-width="1.15" />
<line x1="203.5" y1="298.8" x2="207.1" y2="298.8" stroke="#151515" stroke-width="1.15" />
<rect x="202.2" y="300.6" width="6.2" height="15.7" fill="#5a9bd6" />
<line x1="182.85" y1="255.8" x2="182.85" y2="316.95" stroke="#111" stroke-width="1.35" />
<line x1="182.25" y1="316.3" x2="210.05" y2="316.3" stroke="#111" stroke-width="1.35" />
<line x1="179.55" y1="258.4" x2="182.85" y2="258.4" stroke="#111" stroke-width="1" />
<text x="176.85" y="261.05" font-size="8.2" text-anchor="end" fill="#2a2a2a" stroke="#2a2a2a" stroke-width="0.16" textLength="8.3" lengthAdjust="spacingAndGlyphs">10</text>
<line x1="179.55" y1="287.35" x2="182.85" y2="287.35" stroke="#111" stroke-width="1" />
<text x="176.85" y="290" font-size="8.2" text-anchor="end" fill="#2a2a2a" stroke="#2a2a2a" stroke-width="0.16" textLength="4.15" lengthAdjust="spacingAndGlyphs">5</text>
<line x1="179.55" y1="316.3" x2="182.85" y2="316.3" stroke="#111" stroke-width="1" />
<text x="176.85" y="318.95" font-size="8.2" text-anchor="end" fill="#2a2a2a" stroke="#2a2a2a" stroke-width="0.16" textLength="4.15" lengthAdjust="spacingAndGlyphs">0</text>
<line x1="187.45" y1="316.3" x2="187.45" y2="319.2" stroke="#111" stroke-width="1" />
<line x1="196.35" y1="316.3" x2="196.35" y2="319.2" stroke="#111" stroke-width="1" />
<line x1="205.3" y1="316.3" x2="205.3" y2="319.2" stroke="#111" stroke-width="1" />
<text x="205.3" y="298.3" font-size="8" text-anchor="middle" fill="#222" stroke="#222" stroke-width="0.3">*</text>
<text x="187.45" y="328.6" font-size="7" text-anchor="middle" fill="#2a2a2a" stroke="#2a2a2a" stroke-width="0.25">-</text>
<text x="187.45" y="339.4" font-size="7" text-anchor="middle" fill="#2a2a2a" stroke="#2a2a2a" stroke-width="0.25">-</text>
<text x="196.35" y="329.65" font-size="6" text-anchor="middle" fill="#2a2a2a" stroke="#2a2a2a" stroke-width="0.28">+</text>
<text x="196.35" y="339.4" font-size="7" text-anchor="middle" fill="#2a2a2a" stroke="#2a2a2a" stroke-width="0.25">-</text>
<text x="205.3" y="329.65" font-size="6" text-anchor="middle" fill="#2a2a2a" stroke="#2a2a2a" stroke-width="0.28">+</text>
<text x="205.3" y="340.45" font-size="6" text-anchor="middle" fill="#2a2a2a" stroke="#2a2a2a" stroke-width="0.28">+</text>
<line x1="233.75" y1="308.2" x2="233.75" y2="309.1" stroke="#151515" stroke-width="1.15" />
<line x1="231.95" y1="308.2" x2="235.55" y2="308.2" stroke="#151515" stroke-width="1.15" />
<rect x="230.65" y="308.8" width="6.2" height="7.5" fill="#cdcbcd" />
<line x1="243.05" y1="273.2" x2="243.05" y2="274.1" stroke="#151515" stroke-width="1.15" />
<line x1="241.25" y1="273.2" x2="244.85" y2="273.2" stroke="#151515" stroke-width="1.15" />
<rect x="239.95" y="273.8" width="6.2" height="42.5" fill="#e08d1c" />
<line x1="252.05" y1="303.4" x2="252.05" y2="305.3" stroke="#151515" stroke-width="1.15" />
<line x1="250.25" y1="303.4" x2="253.85" y2="303.4" stroke="#151515" stroke-width="1.15" />
<rect x="248.95" y="305" width="6.2" height="11.3" fill="#5a9bd6" />
<line x1="229.45" y1="255.8" x2="229.45" y2="316.95" stroke="#111" stroke-width="1.35" />
<line x1="228.85" y1="316.3" x2="256.25" y2="316.3" stroke="#111" stroke-width="1.35" />
<line x1="226.15" y1="258.4" x2="229.45" y2="258.4" stroke="#111" stroke-width="1" />
<text x="223.45" y="261.05" font-size="8.2" text-anchor="end" fill="#2a2a2a" stroke="#2a2a2a" stroke-width="0.16" textLength="4.15" lengthAdjust="spacingAndGlyphs">8</text>
<line x1="226.15" y1="287.35" x2="229.45" y2="287.35" stroke="#111" stroke-width="1" />
<text x="223.45" y="290" font-size="8.2" text-anchor="end" fill="#2a2a2a" stroke="#2a2a2a" stroke-width="0.16" textLength="4.15" lengthAdjust="spacingAndGlyphs">4</text>
<line x1="226.15" y1="316.3" x2="229.45" y2="316.3" stroke="#111" stroke-width="1" />
<text x="223.45" y="318.95" font-size="8.2" text-anchor="end" fill="#2a2a2a" stroke="#2a2a2a" stroke-width="0.16" textLength="4.15" lengthAdjust="spacingAndGlyphs">0</text>
<line x1="233.75" y1="316.3" x2="233.75" y2="319.2" stroke="#111" stroke-width="1" />
<line x1="243.05" y1="316.3" x2="243.05" y2="319.2" stroke="#111" stroke-width="1" />
<line x1="252.05" y1="316.3" x2="252.05" y2="319.2" stroke="#111" stroke-width="1" />
<text x="252.05" y="304.3" font-size="8" text-anchor="middle" fill="#222" stroke="#222" stroke-width="0.3">*</text>
<text x="233.75" y="328.6" font-size="7" text-anchor="middle" fill="#2a2a2a" stroke="#2a2a2a" stroke-width="0.25">-</text>
<text x="233.75" y="339.4" font-size="7" text-anchor="middle" fill="#2a2a2a" stroke="#2a2a2a" stroke-width="0.25">-</text>
<text x="243.05" y="329.65" font-size="6" text-anchor="middle" fill="#2a2a2a" stroke="#2a2a2a" stroke-width="0.28">+</text>
<text x="243.05" y="339.4" font-size="7" text-anchor="middle" fill="#2a2a2a" stroke="#2a2a2a" stroke-width="0.25">-</text>
<text x="252.05" y="329.65" font-size="6" text-anchor="middle" fill="#2a2a2a" stroke="#2a2a2a" stroke-width="0.28">+</text>
<text x="252.05" y="340.45" font-size="6" text-anchor="middle" fill="#2a2a2a" stroke="#2a2a2a" stroke-width="0.28">+</text>
<line x1="285.05" y1="312.7" x2="285.05" y2="313.7" stroke="#151515" stroke-width="1.15" />
<line x1="283.25" y1="312.7" x2="286.85" y2="312.7" stroke="#151515" stroke-width="1.15" />
<rect x="281.95" y="313.4" width="6.2" height="2.9" fill="#cdcbcd" />
<line x1="293.95" y1="268.3" x2="293.95" y2="282.8" stroke="#151515" stroke-width="1.15" />
<line x1="292.15" y1="268.3" x2="295.75" y2="268.3" stroke="#151515" stroke-width="1.15" />
<rect x="290.85" y="282.5" width="6.2" height="33.8" fill="#e08d1c" />
<line x1="303.25" y1="301.6" x2="303.25" y2="304.5" stroke="#151515" stroke-width="1.15" />
<line x1="301.45" y1="301.6" x2="305.05" y2="301.6" stroke="#151515" stroke-width="1.15" />
<rect x="300.15" y="304.2" width="6.2" height="12.1" fill="#5a9bd6" />
<line x1="280.55" y1="255.8" x2="280.55" y2="316.95" stroke="#111" stroke-width="1.35" />
<line x1="279.95" y1="316.3" x2="307.45" y2="316.3" stroke="#111" stroke-width="1.35" />
<line x1="277.25" y1="258.4" x2="280.55" y2="258.4" stroke="#111" stroke-width="1" />
<text x="274.55" y="261.05" font-size="8.2" text-anchor="end" fill="#2a2a2a" stroke="#2a2a2a" stroke-width="0.16" textLength="8.3" lengthAdjust="spacingAndGlyphs">20</text>
<line x1="277.25" y1="287.35" x2="280.55" y2="287.35" stroke="#111" stroke-width="1" />
<text x="274.55" y="290" font-size="8.2" text-anchor="end" fill="#2a2a2a" stroke="#2a2a2a" stroke-width="0.16" textLength="8.3" lengthAdjust="spacingAndGlyphs">10</text>
<line x1="277.25" y1="316.3" x2="280.55" y2="316.3" stroke="#111" stroke-width="1" />
<text x="274.55" y="318.95" font-size="8.2" text-anchor="end" fill="#2a2a2a" stroke="#2a2a2a" stroke-width="0.16" textLength="4.15" lengthAdjust="spacingAndGlyphs">0</text>
<line x1="285.05" y1="316.3" x2="285.05" y2="319.2" stroke="#111" stroke-width="1" />
<line x1="293.95" y1="316.3" x2="293.95" y2="319.2" stroke="#111" stroke-width="1" />
<line x1="303.25" y1="316.3" x2="303.25" y2="319.2" stroke="#111" stroke-width="1" />
<text x="303.25" y="302.3" font-size="8" text-anchor="middle" fill="#222" stroke="#222" stroke-width="0.3">*</text>
<text x="285.05" y="328.6" font-size="7" text-anchor="middle" fill="#2a2a2a" stroke="#2a2a2a" stroke-width="0.25">-</text>
<text x="285.05" y="339.4" font-size="7" text-anchor="middle" fill="#2a2a2a" stroke="#2a2a2a" stroke-width="0.25">-</text>
<text x="293.95" y="329.65" font-size="6" text-anchor="middle" fill="#2a2a2a" stroke="#2a2a2a" stroke-width="0.28">+</text>
<text x="293.95" y="339.4" font-size="7" text-anchor="middle" fill="#2a2a2a" stroke="#2a2a2a" stroke-width="0.25">-</text>
<text x="303.25" y="329.65" font-size="6" text-anchor="middle" fill="#2a2a2a" stroke="#2a2a2a" stroke-width="0.28">+</text>
<text x="303.25" y="340.45" font-size="6" text-anchor="middle" fill="#2a2a2a" stroke="#2a2a2a" stroke-width="0.28">+</text>
<line x1="338.2" y1="308.2" x2="338.2" y2="309.3" stroke="#151515" stroke-width="1.15" />
<line x1="336.4" y1="308.2" x2="340" y2="308.2" stroke="#151515" stroke-width="1.15" />
<rect x="335.1" y="309" width="6.2" height="7.3" fill="#cdcbcd" />
<line x1="347.3" y1="268.3" x2="347.3" y2="289.8" stroke="#151515" stroke-width="1.15" />
<line x1="345.5" y1="268.3" x2="349.1" y2="268.3" stroke="#151515" stroke-width="1.15" />
<rect x="344.2" y="289.5" width="6.2" height="26.8" fill="#e08d1c" />
<line x1="356.7" y1="307.5" x2="356.7" y2="308.6" stroke="#151515" stroke-width="1.15" />
<line x1="354.9" y1="307.5" x2="358.5" y2="307.5" stroke="#151515" stroke-width="1.15" />
<rect x="353.6" y="308.3" width="6.2" height="8" fill="#5a9bd6" />
<line x1="333.8" y1="255.8" x2="333.8" y2="316.95" stroke="#111" stroke-width="1.35" />
<line x1="333.2" y1="316.3" x2="361.3" y2="316.3" stroke="#111" stroke-width="1.35" />
<line x1="330.5" y1="258.4" x2="333.8" y2="258.4" stroke="#111" stroke-width="1" />
<text x="327.8" y="261.05" font-size="8.2" text-anchor="end" fill="#2a2a2a" stroke="#2a2a2a" stroke-width="0.16" textLength="4.15" lengthAdjust="spacingAndGlyphs">8</text>
<line x1="330.5" y1="287.35" x2="333.8" y2="287.35" stroke="#111" stroke-width="1" />
<text x="327.8" y="290" font-size="8.2" text-anchor="end" fill="#2a2a2a" stroke="#2a2a2a" stroke-width="0.16" textLength="4.15" lengthAdjust="spacingAndGlyphs">4</text>
<line x1="330.5" y1="316.3" x2="333.8" y2="316.3" stroke="#111" stroke-width="1" />
<text x="327.8" y="318.95" font-size="8.2" text-anchor="end" fill="#2a2a2a" stroke="#2a2a2a" stroke-width="0.16" textLength="4.15" lengthAdjust="spacingAndGlyphs">0</text>
<line x1="338.2" y1="316.3" x2="338.2" y2="319.2" stroke="#111" stroke-width="1" />
<line x1="347.3" y1="316.3" x2="347.3" y2="319.2" stroke="#111" stroke-width="1" />
<line x1="356.7" y1="316.3" x2="356.7" y2="319.2" stroke="#111" stroke-width="1" />
<text x="338.2" y="328.6" font-size="7" text-anchor="middle" fill="#2a2a2a" stroke="#2a2a2a" stroke-width="0.25">-</text>
<text x="338.2" y="339.4" font-size="7" text-anchor="middle" fill="#2a2a2a" stroke="#2a2a2a" stroke-width="0.25">-</text>
<text x="347.3" y="329.65" font-size="6" text-anchor="middle" fill="#2a2a2a" stroke="#2a2a2a" stroke-width="0.28">+</text>
<text x="347.3" y="339.4" font-size="7" text-anchor="middle" fill="#2a2a2a" stroke="#2a2a2a" stroke-width="0.25">-</text>
<text x="356.7" y="329.65" font-size="6" text-anchor="middle" fill="#2a2a2a" stroke="#2a2a2a" stroke-width="0.28">+</text>
<text x="356.7" y="340.45" font-size="6" text-anchor="middle" fill="#2a2a2a" stroke="#2a2a2a" stroke-width="0.28">+</text>
<line x1="389.2" y1="312.4" x2="389.2" y2="313.5" stroke="#151515" stroke-width="1.15" />
<line x1="387.4" y1="312.4" x2="391" y2="312.4" stroke="#151515" stroke-width="1.15" />
<rect x="386.1" y="313.2" width="6.2" height="3.1" fill="#cdcbcd" />
<line x1="398.3" y1="268.8" x2="398.3" y2="274.6" stroke="#151515" stroke-width="1.15" />
<line x1="396.5" y1="268.8" x2="400.1" y2="268.8" stroke="#151515" stroke-width="1.15" />
<rect x="395.2" y="274.3" width="6.2" height="42" fill="#e08d1c" />
<line x1="407.7" y1="311.2" x2="407.7" y2="312.7" stroke="#151515" stroke-width="1.15" />
<line x1="405.9" y1="311.2" x2="409.5" y2="311.2" stroke="#151515" stroke-width="1.15" />
<rect x="404.6" y="312.4" width="6.2" height="3.9" fill="#5a9bd6" />
<line x1="384.8" y1="255.8" x2="384.8" y2="316.95" stroke="#111" stroke-width="1.35" />
<line x1="384.2" y1="316.3" x2="412.3" y2="316.3" stroke="#111" stroke-width="1.35" />
<line x1="381.5" y1="258.4" x2="384.8" y2="258.4" stroke="#111" stroke-width="1" />
<text x="378.8" y="261.05" font-size="8.2" text-anchor="end" fill="#2a2a2a" stroke="#2a2a2a" stroke-width="0.16" textLength="8.3" lengthAdjust="spacingAndGlyphs">15</text>
<line x1="381.5" y1="277.5" x2="384.8" y2="277.5" stroke="#111" stroke-width="1" />
<text x="378.8" y="280.15" font-size="8.2" text-anchor="end" fill="#2a2a2a" stroke="#2a2a2a" stroke-width="0.16" textLength="8.3" lengthAdjust="spacingAndGlyphs">10</text>
<line x1="381.5" y1="296.6" x2="384.8" y2="296.6" stroke="#111" stroke-width="1" />
<text x="378.8" y="299.25" font-size="8.2" text-anchor="end" fill="#2a2a2a" stroke="#2a2a2a" stroke-width="0.16" textLength="4.15" lengthAdjust="spacingAndGlyphs">5</text>
<line x1="381.5" y1="316.3" x2="384.8" y2="316.3" stroke="#111" stroke-width="1" />
<text x="378.8" y="318.95" font-size="8.2" text-anchor="end" fill="#2a2a2a" stroke="#2a2a2a" stroke-width="0.16" textLength="4.15" lengthAdjust="spacingAndGlyphs">0</text>
<line x1="389.2" y1="316.3" x2="389.2" y2="319.2" stroke="#111" stroke-width="1" />
<line x1="398.3" y1="316.3" x2="398.3" y2="319.2" stroke="#111" stroke-width="1" />
<line x1="407.7" y1="316.3" x2="407.7" y2="319.2" stroke="#111" stroke-width="1" />
<text x="407.7" y="309.1" font-size="8" text-anchor="middle" fill="#222" stroke="#222" stroke-width="0.3">*</text>
<text x="389.2" y="328.6" font-size="7" text-anchor="middle" fill="#2a2a2a" stroke="#2a2a2a" stroke-width="0.25">-</text>
<text x="389.2" y="339.4" font-size="7" text-anchor="middle" fill="#2a2a2a" stroke="#2a2a2a" stroke-width="0.25">-</text>
<text x="398.3" y="329.65" font-size="6" text-anchor="middle" fill="#2a2a2a" stroke="#2a2a2a" stroke-width="0.28">+</text>
<text x="398.3" y="339.4" font-size="7" text-anchor="middle" fill="#2a2a2a" stroke="#2a2a2a" stroke-width="0.25">-</text>
<text x="407.7" y="329.65" font-size="6" text-anchor="middle" fill="#2a2a2a" stroke="#2a2a2a" stroke-width="0.28">+</text>
<text x="407.7" y="340.45" font-size="6" text-anchor="middle" fill="#2a2a2a" stroke="#2a2a2a" stroke-width="0.28">+</text>
<line x1="436.7" y1="306.1" x2="436.7" y2="307.2" stroke="#151515" stroke-width="1.15" />
<line x1="434.9" y1="306.1" x2="438.5" y2="306.1" stroke="#151515" stroke-width="1.15" />
<rect x="433.6" y="306.9" width="6.2" height="9.4" fill="#cdcbcd" />
<line x1="445.3" y1="268.8" x2="445.3" y2="272.3" stroke="#151515" stroke-width="1.15" />
<line x1="443.5" y1="268.8" x2="447.1" y2="268.8" stroke="#151515" stroke-width="1.15" />
<rect x="442.2" y="272" width="6.2" height="44.3" fill="#e08d1c" />
<line x1="454.3" y1="306.8" x2="454.3" y2="307.7" stroke="#151515" stroke-width="1.15" />
<line x1="452.5" y1="306.8" x2="456.1" y2="306.8" stroke="#151515" stroke-width="1.15" />
<rect x="451.2" y="307.4" width="6.2" height="8.9" fill="#5a9bd6" />
<line x1="431.8" y1="255.8" x2="431.8" y2="316.95" stroke="#111" stroke-width="1.35" />
<line x1="431.2" y1="316.3" x2="458.8" y2="316.3" stroke="#111" stroke-width="1.35" />
<line x1="428.5" y1="258.4" x2="431.8" y2="258.4" stroke="#111" stroke-width="1" />
<text x="425.8" y="261.05" font-size="8.2" text-anchor="end" fill="#2a2a2a" stroke="#2a2a2a" stroke-width="0.16" textLength="4.15" lengthAdjust="spacingAndGlyphs">6</text>
<line x1="428.5" y1="277.5" x2="431.8" y2="277.5" stroke="#111" stroke-width="1" />
<text x="425.8" y="280.15" font-size="8.2" text-anchor="end" fill="#2a2a2a" stroke="#2a2a2a" stroke-width="0.16" textLength="4.15" lengthAdjust="spacingAndGlyphs">4</text>
<line x1="428.5" y1="296.8" x2="431.8" y2="296.8" stroke="#111" stroke-width="1" />
<text x="425.8" y="299.45" font-size="8.2" text-anchor="end" fill="#2a2a2a" stroke="#2a2a2a" stroke-width="0.16" textLength="4.15" lengthAdjust="spacingAndGlyphs">2</text>
<line x1="428.5" y1="316.3" x2="431.8" y2="316.3" stroke="#111" stroke-width="1" />
<text x="425.8" y="318.95" font-size="8.2" text-anchor="end" fill="#2a2a2a" stroke="#2a2a2a" stroke-width="0.16" textLength="4.15" lengthAdjust="spacingAndGlyphs">0</text>
<line x1="436.7" y1="316.3" x2="436.7" y2="319.2" stroke="#111" stroke-width="1" />
<line x1="445.3" y1="316.3" x2="445.3" y2="319.2" stroke="#111" stroke-width="1" />
<line x1="454.3" y1="316.3" x2="454.3" y2="319.2" stroke="#111" stroke-width="1" />
<text x="454.3" y="305.6" font-size="8" text-anchor="middle" fill="#222" stroke="#222" stroke-width="0.3">*</text>
<text x="436.7" y="328.6" font-size="7" text-anchor="middle" fill="#2a2a2a" stroke="#2a2a2a" stroke-width="0.25">-</text>
<text x="436.7" y="339.4" font-size="7" text-anchor="middle" fill="#2a2a2a" stroke="#2a2a2a" stroke-width="0.25">-</text>
<text x="445.3" y="329.65" font-size="6" text-anchor="middle" fill="#2a2a2a" stroke="#2a2a2a" stroke-width="0.28">+</text>
<text x="445.3" y="339.4" font-size="7" text-anchor="middle" fill="#2a2a2a" stroke="#2a2a2a" stroke-width="0.25">-</text>
<text x="454.3" y="329.65" font-size="6" text-anchor="middle" fill="#2a2a2a" stroke="#2a2a2a" stroke-width="0.28">+</text>
<text x="454.3" y="340.45" font-size="6" text-anchor="middle" fill="#2a2a2a" stroke="#2a2a2a" stroke-width="0.28">+</text>
<line x1="487.95" y1="286.5" x2="487.95" y2="287.9" stroke="#151515" stroke-width="1.15" />
<line x1="486.15" y1="286.5" x2="489.75" y2="286.5" stroke="#151515" stroke-width="1.15" />
<rect x="484.85" y="287.6" width="6.2" height="28.7" fill="#cdcbcd" />
<line x1="497.25" y1="270.6" x2="497.25" y2="275.4" stroke="#151515" stroke-width="1.15" />
<line x1="495.45" y1="270.6" x2="499.05" y2="270.6" stroke="#151515" stroke-width="1.15" />
<rect x="494.15" y="275.1" width="6.2" height="41.2" fill="#e08d1c" />
<line x1="506.55" y1="283.2" x2="506.55" y2="283.9" stroke="#151515" stroke-width="1.15" />
<line x1="504.75" y1="283.2" x2="508.35" y2="283.2" stroke="#151515" stroke-width="1.15" />
<rect x="503.45" y="283.6" width="6.2" height="32.7" fill="#5a9bd6" />
<line x1="483.05" y1="255.8" x2="483.05" y2="316.95" stroke="#111" stroke-width="1.35" />
<line x1="482.45" y1="316.3" x2="513.45" y2="316.3" stroke="#111" stroke-width="1.35" />
<line x1="479.75" y1="258.6" x2="483.05" y2="258.6" stroke="#111" stroke-width="1" />
<text x="477.05" y="261.25" font-size="8.2" text-anchor="end" fill="#2a2a2a" stroke="#2a2a2a" stroke-width="0.16" textLength="4.15" lengthAdjust="spacingAndGlyphs">2</text>
<line x1="479.75" y1="288.2" x2="483.05" y2="288.2" stroke="#111" stroke-width="1" />
<text x="477.05" y="290.85" font-size="8.2" text-anchor="end" fill="#2a2a2a" stroke="#2a2a2a" stroke-width="0.16" textLength="4.15" lengthAdjust="spacingAndGlyphs">1</text>
<line x1="479.75" y1="316.3" x2="483.05" y2="316.3" stroke="#111" stroke-width="1" />
<text x="477.05" y="318.95" font-size="8.2" text-anchor="end" fill="#2a2a2a" stroke="#2a2a2a" stroke-width="0.16" textLength="4.15" lengthAdjust="spacingAndGlyphs">0</text>
<line x1="487.95" y1="316.3" x2="487.95" y2="319.2" stroke="#111" stroke-width="1" />
<line x1="497.25" y1="316.3" x2="497.25" y2="319.2" stroke="#111" stroke-width="1" />
<line x1="506.55" y1="316.3" x2="506.55" y2="319.2" stroke="#111" stroke-width="1" />
<text x="487.95" y="328.6" font-size="7" text-anchor="middle" fill="#2a2a2a" stroke="#2a2a2a" stroke-width="0.25">-</text>
<text x="487.95" y="339.4" font-size="7" text-anchor="middle" fill="#2a2a2a" stroke="#2a2a2a" stroke-width="0.25">-</text>
<text x="497.25" y="329.65" font-size="6" text-anchor="middle" fill="#2a2a2a" stroke="#2a2a2a" stroke-width="0.28">+</text>
<text x="497.25" y="339.4" font-size="7" text-anchor="middle" fill="#2a2a2a" stroke="#2a2a2a" stroke-width="0.25">-</text>
<text x="506.55" y="329.65" font-size="6" text-anchor="middle" fill="#2a2a2a" stroke="#2a2a2a" stroke-width="0.28">+</text>
<text x="506.55" y="340.45" font-size="6" text-anchor="middle" fill="#2a2a2a" stroke="#2a2a2a" stroke-width="0.28">+</text>
<text x="183.2" y="329.6" font-size="7.3" text-anchor="end" fill="#2a2a2a" stroke="#2a2a2a" stroke-width="0.16">anti-BCR</text>
<text x="182.2" y="340.3" font-size="7.3" text-anchor="end" fill="#2a2a2a" stroke="#2a2a2a" stroke-width="0.16" textLength="27" lengthAdjust="spacingAndGlyphs">Ibrutinib</text>
<text x="151.7" y="286.1" font-size="9.8" text-anchor="middle" fill="#2a2a2a" stroke="#2a2a2a" stroke-width="0.22" textLength="19.7" lengthAdjust="spacingAndGlyphs" transform="rotate(-90 151.7 286.1)">p-BTK</text>
<text x="161.5" y="285.9" font-size="9.8" text-anchor="middle" fill="#2a2a2a" stroke="#2a2a2a" stroke-width="0.22" textLength="57.5" lengthAdjust="spacingAndGlyphs" transform="rotate(-90 161.5 285.9)">(normalized MFI)</text>
</g>
<g id="panelE">
<text x="133.1" y="366.2" font-size="10.3" font-weight="bold" fill="#000" textLength="6.2" lengthAdjust="spacingAndGlyphs" stroke="#000" stroke-width="0.3">E</text>
<line x1="187.45" y1="422.4" x2="187.45" y2="423.3" stroke="#151515" stroke-width="1.15" />
<line x1="185.65" y1="422.4" x2="189.25" y2="422.4" stroke="#151515" stroke-width="1.15" />
<rect x="184.35" y="423" width="6.2" height="6.6" fill="#cdcbcd" />
<line x1="196.35" y1="378.8" x2="196.35" y2="382.3" stroke="#151515" stroke-width="1.15" />
<line x1="194.55" y1="378.8" x2="198.15" y2="378.8" stroke="#151515" stroke-width="1.15" />
<rect x="193.25" y="382" width="6.2" height="47.6" fill="#e08d1c" />
<line x1="205.3" y1="379.6" x2="205.3" y2="382.3" stroke="#151515" stroke-width="1.15" />
<line x1="203.5" y1="379.6" x2="207.1" y2="379.6" stroke="#151515" stroke-width="1.15" />
<rect x="202.2" y="382" width="6.2" height="47.6" fill="#5a9bd6" />
<line x1="182.85" y1="368.7" x2="182.85" y2="430.25" stroke="#111" stroke-width="1.35" />
<line x1="182.25" y1="429.6" x2="210.05" y2="429.6" stroke="#111" stroke-width="1.35" />
<line x1="179.55" y1="371.3" x2="182.85" y2="371.3" stroke="#111" stroke-width="1" />
<text x="176.85" y="373.95" font-size="8.2" text-anchor="end" fill="#2a2a2a" stroke="#2a2a2a" stroke-width="0.16" textLength="4.15" lengthAdjust="spacingAndGlyphs">8</text>
<line x1="179.55" y1="400.45" x2="182.85" y2="400.45" stroke="#111" stroke-width="1" />
<text x="176.85" y="403.1" font-size="8.2" text-anchor="end" fill="#2a2a2a" stroke="#2a2a2a" stroke-width="0.16" textLength="4.15" lengthAdjust="spacingAndGlyphs">4</text>
<line x1="179.55" y1="429.6" x2="182.85" y2="429.6" stroke="#111" stroke-width="1" />
<text x="176.85" y="432.25" font-size="8.2" text-anchor="end" fill="#2a2a2a" stroke="#2a2a2a" stroke-width="0.16" textLength="4.15" lengthAdjust="spacingAndGlyphs">0</text>
<line x1="187.45" y1="429.6" x2="187.45" y2="432.5" stroke="#111" stroke-width="1" />
<line x1="196.35" y1="429.6" x2="196.35" y2="432.5" stroke="#111" stroke-width="1" />
<line x1="205.3" y1="429.6" x2="205.3" y2="432.5" stroke="#111" stroke-width="1" />
<text x="187.45" y="441.6" font-size="7" text-anchor="middle" fill="#2a2a2a" stroke="#2a2a2a" stroke-width="0.25">-</text>
<text x="187.45" y="452.3" font-size="7" text-anchor="middle" fill="#2a2a2a" stroke="#2a2a2a" stroke-width="0.25">-</text>
<text x="196.35" y="442.65" font-size="6" text-anchor="middle" fill="#2a2a2a" stroke="#2a2a2a" stroke-width="0.28">+</text>
<text x="196.35" y="452.3" font-size="7" text-anchor="middle" fill="#2a2a2a" stroke="#2a2a2a" stroke-width="0.25">-</text>
<text x="205.3" y="442.65" font-size="6" text-anchor="middle" fill="#2a2a2a" stroke="#2a2a2a" stroke-width="0.28">+</text>
<text x="205.3" y="453.35" font-size="6" text-anchor="middle" fill="#2a2a2a" stroke="#2a2a2a" stroke-width="0.28">+</text>
<line x1="233.75" y1="410.6" x2="233.75" y2="411.6" stroke="#151515" stroke-width="1.15" />
<line x1="231.95" y1="410.6" x2="235.55" y2="410.6" stroke="#151515" stroke-width="1.15" />
<rect x="230.65" y="411.3" width="6.2" height="18.3" fill="#cdcbcd" />
<line x1="243.05" y1="378.8" x2="243.05" y2="389.8" stroke="#151515" stroke-width="1.15" />
<line x1="241.25" y1="378.8" x2="244.85" y2="378.8" stroke="#151515" stroke-width="1.15" />
<rect x="239.95" y="389.5" width="6.2" height="40.1" fill="#e08d1c" />
<line x1="252.05" y1="399.2" x2="252.05" y2="400.8" stroke="#151515" stroke-width="1.15" />
<line x1="250.25" y1="399.2" x2="253.85" y2="399.2" stroke="#151515" stroke-width="1.15" />
<rect x="248.95" y="400.5" width="6.2" height="29.1" fill="#5a9bd6" />
<line x1="229.45" y1="372.6" x2="229.45" y2="430.25" stroke="#111" stroke-width="1.35" />
<line x1="228.85" y1="429.6" x2="256.25" y2="429.6" stroke="#111" stroke-width="1.35" />
<line x1="226.15" y1="375.5" x2="229.45" y2="375.5" stroke="#111" stroke-width="1" />
<text x="223.45" y="378.15" font-size="8.2" text-anchor="end" fill="#2a2a2a" stroke="#2a2a2a" stroke-width="0.16" textLength="4.15" lengthAdjust="spacingAndGlyphs">3</text>
<line x1="226.15" y1="393.4" x2="229.45" y2="393.4" stroke="#111" stroke-width="1" />
<text x="223.45" y="396.05" font-size="8.2" text-anchor="end" fill="#2a2a2a" stroke="#2a2a2a" stroke-width="0.16" textLength="4.15" lengthAdjust="spacingAndGlyphs">2</text>
<line x1="226.15" y1="411.3" x2="229.45" y2="411.3" stroke="#111" stroke-width="1" />
<text x="223.45" y="413.95" font-size="8.2" text-anchor="end" fill="#2a2a2a" stroke="#2a2a2a" stroke-width="0.16" textLength="4.15" lengthAdjust="spacingAndGlyphs">1</text>
<line x1="226.15" y1="429.6" x2="229.45" y2="429.6" stroke="#111" stroke-width="1" />
<text x="223.45" y="432.25" font-size="8.2" text-anchor="end" fill="#2a2a2a" stroke="#2a2a2a" stroke-width="0.16" textLength="4.15" lengthAdjust="spacingAndGlyphs">0</text>
<line x1="233.75" y1="429.6" x2="233.75" y2="432.5" stroke="#111" stroke-width="1" />
<line x1="243.05" y1="429.6" x2="243.05" y2="432.5" stroke="#111" stroke-width="1" />
<line x1="252.05" y1="429.6" x2="252.05" y2="432.5" stroke="#111" stroke-width="1" />
<text x="233.75" y="441.6" font-size="7" text-anchor="middle" fill="#2a2a2a" stroke="#2a2a2a" stroke-width="0.25">-</text>
<text x="233.75" y="452.3" font-size="7" text-anchor="middle" fill="#2a2a2a" stroke="#2a2a2a" stroke-width="0.25">-</text>
<text x="243.05" y="442.65" font-size="6" text-anchor="middle" fill="#2a2a2a" stroke="#2a2a2a" stroke-width="0.28">+</text>
<text x="243.05" y="452.3" font-size="7" text-anchor="middle" fill="#2a2a2a" stroke="#2a2a2a" stroke-width="0.25">-</text>
<text x="252.05" y="442.65" font-size="6" text-anchor="middle" fill="#2a2a2a" stroke="#2a2a2a" stroke-width="0.28">+</text>
<text x="252.05" y="453.35" font-size="6" text-anchor="middle" fill="#2a2a2a" stroke="#2a2a2a" stroke-width="0.28">+</text>
<line x1="285.05" y1="405.2" x2="285.05" y2="406.6" stroke="#151515" stroke-width="1.15" />
<line x1="283.25" y1="405.2" x2="286.85" y2="405.2" stroke="#151515" stroke-width="1.15" />
<rect x="281.95" y="406.3" width="6.2" height="23.3" fill="#cdcbcd" />
<line x1="293.95" y1="375" x2="293.95" y2="389.1" stroke="#151515" stroke-width="1.15" />
<line x1="292.15" y1="375" x2="295.75" y2="375" stroke="#151515" stroke-width="1.15" />
<rect x="290.85" y="388.8" width="6.2" height="40.8" fill="#e08d1c" />
<line x1="303.25" y1="388.3" x2="303.25" y2="394.1" stroke="#151515" stroke-width="1.15" />
<line x1="301.45" y1="388.3" x2="305.05" y2="388.3" stroke="#151515" stroke-width="1.15" />
<rect x="300.15" y="393.8" width="6.2" height="35.8" fill="#5a9bd6" />
<line x1="280.55" y1="368.7" x2="280.55" y2="430.25" stroke="#111" stroke-width="1.35" />
<line x1="279.95" y1="429.6" x2="307.45" y2="429.6" stroke="#111" stroke-width="1.35" />
<line x1="277.25" y1="383.3" x2="280.55" y2="383.3" stroke="#111" stroke-width="1" />
<text x="274.55" y="385.95" font-size="8.2" text-anchor="end" fill="#2a2a2a" stroke="#2a2a2a" stroke-width="0.16" textLength="4.15" lengthAdjust="spacingAndGlyphs">2</text>
<line x1="277.25" y1="406.3" x2="280.55" y2="406.3" stroke="#111" stroke-width="1" />
<text x="274.55" y="408.95" font-size="8.2" text-anchor="end" fill="#2a2a2a" stroke="#2a2a2a" stroke-width="0.16" textLength="4.15" lengthAdjust="spacingAndGlyphs">1</text>
<line x1="277.25" y1="429.6" x2="280.55" y2="429.6" stroke="#111" stroke-width="1" />
<text x="274.55" y="432.25" font-size="8.2" text-anchor="end" fill="#2a2a2a" stroke="#2a2a2a" stroke-width="0.16" textLength="4.15" lengthAdjust="spacingAndGlyphs">0</text>
<line x1="285.05" y1="429.6" x2="285.05" y2="432.5" stroke="#111" stroke-width="1" />
<line x1="293.95" y1="429.6" x2="293.95" y2="432.5" stroke="#111" stroke-width="1" />
<line x1="303.25" y1="429.6" x2="303.25" y2="432.5" stroke="#111" stroke-width="1" />
<text x="285.05" y="441.6" font-size="7" text-anchor="middle" fill="#2a2a2a" stroke="#2a2a2a" stroke-width="0.25">-</text>
<text x="285.05" y="452.3" font-size="7" text-anchor="middle" fill="#2a2a2a" stroke="#2a2a2a" stroke-width="0.25">-</text>
<text x="293.95" y="442.65" font-size="6" text-anchor="middle" fill="#2a2a2a" stroke="#2a2a2a" stroke-width="0.28">+</text>
<text x="293.95" y="452.3" font-size="7" text-anchor="middle" fill="#2a2a2a" stroke="#2a2a2a" stroke-width="0.25">-</text>
<text x="303.25" y="442.65" font-size="6" text-anchor="middle" fill="#2a2a2a" stroke="#2a2a2a" stroke-width="0.28">+</text>
<text x="303.25" y="453.35" font-size="6" text-anchor="middle" fill="#2a2a2a" stroke="#2a2a2a" stroke-width="0.28">+</text>
<line x1="338.2" y1="398.8" x2="338.2" y2="400.8" stroke="#151515" stroke-width="1.15" />
<line x1="336.4" y1="398.8" x2="340" y2="398.8" stroke="#151515" stroke-width="1.15" />
<rect x="335.1" y="400.5" width="6.2" height="29.1" fill="#cdcbcd" />
<line x1="347.3" y1="385.6" x2="347.3" y2="386.6" stroke="#151515" stroke-width="1.15" />
<line x1="345.5" y1="385.6" x2="349.1" y2="385.6" stroke="#151515" stroke-width="1.15" />
<rect x="344.2" y="386.3" width="6.2" height="43.3" fill="#e08d1c" />
<line x1="356.7" y1="375.5" x2="356.7" y2="384.1" stroke="#151515" stroke-width="1.15" />
<line x1="354.9" y1="375.5" x2="358.5" y2="375.5" stroke="#151515" stroke-width="1.15" />
<rect x="353.6" y="383.8" width="6.2" height="45.8" fill="#5a9bd6" />
<line x1="333.8" y1="368.7" x2="333.8" y2="430.25" stroke="#111" stroke-width="1.35" />
<line x1="333.2" y1="429.6" x2="361.3" y2="429.6" stroke="#111" stroke-width="1.35" />
<line x1="330.5" y1="371.3" x2="333.8" y2="371.3" stroke="#111" stroke-width="1" />
<text x="327.8" y="373.95" font-size="8.2" text-anchor="end" fill="#2a2a2a" stroke="#2a2a2a" stroke-width="0.16" textLength="4.15" lengthAdjust="spacingAndGlyphs">2</text>
<line x1="330.5" y1="400.45" x2="333.8" y2="400.45" stroke="#111" stroke-width="1" />
<text x="327.8" y="403.1" font-size="8.2" text-anchor="end" fill="#2a2a2a" stroke="#2a2a2a" stroke-width="0.16" textLength="4.15" lengthAdjust="spacingAndGlyphs">1</text>
<line x1="330.5" y1="429.6" x2="333.8" y2="429.6" stroke="#111" stroke-width="1" />
<text x="327.8" y="432.25" font-size="8.2" text-anchor="end" fill="#2a2a2a" stroke="#2a2a2a" stroke-width="0.16" textLength="4.15" lengthAdjust="spacingAndGlyphs">0</text>
<line x1="338.2" y1="429.6" x2="338.2" y2="432.5" stroke="#111" stroke-width="1" />
<line x1="347.3" y1="429.6" x2="347.3" y2="432.5" stroke="#111" stroke-width="1" />
<line x1="356.7" y1="429.6" x2="356.7" y2="432.5" stroke="#111" stroke-width="1" />
<text x="338.2" y="441.6" font-size="7" text-anchor="middle" fill="#2a2a2a" stroke="#2a2a2a" stroke-width="0.25">-</text>
<text x="338.2" y="452.3" font-size="7" text-anchor="middle" fill="#2a2a2a" stroke="#2a2a2a" stroke-width="0.25">-</text>
<text x="347.3" y="442.65" font-size="6" text-anchor="middle" fill="#2a2a2a" stroke="#2a2a2a" stroke-width="0.28">+</text>
<text x="347.3" y="452.3" font-size="7" text-anchor="middle" fill="#2a2a2a" stroke="#2a2a2a" stroke-width="0.25">-</text>
<text x="356.7" y="442.65" font-size="6" text-anchor="middle" fill="#2a2a2a" stroke="#2a2a2a" stroke-width="0.28">+</text>
<text x="356.7" y="453.35" font-size="6" text-anchor="middle" fill="#2a2a2a" stroke="#2a2a2a" stroke-width="0.28">+</text>
<line x1="389.2" y1="425.6" x2="389.2" y2="426.6" stroke="#151515" stroke-width="1.15" />
<line x1="387.4" y1="425.6" x2="391" y2="425.6" stroke="#151515" stroke-width="1.15" />
<rect x="386.1" y="426.3" width="6.2" height="3.3" fill="#cdcbcd" />
<line x1="398.3" y1="385" x2="398.3" y2="388.3" stroke="#151515" stroke-width="1.15" />
<line x1="396.5" y1="385" x2="400.1" y2="385" stroke="#151515" stroke-width="1.15" />
<rect x="395.2" y="388" width="6.2" height="41.6" fill="#e08d1c" />
<line x1="407.7" y1="393.5" x2="407.7" y2="395.8" stroke="#151515" stroke-width="1.15" />
<line x1="405.9" y1="393.5" x2="409.5" y2="393.5" stroke="#151515" stroke-width="1.15" />
<rect x="404.6" y="395.5" width="6.2" height="34.1" fill="#5a9bd6" />
<line x1="384.8" y1="368.7" x2="384.8" y2="430.25" stroke="#111" stroke-width="1.35" />
<line x1="384.2" y1="429.6" x2="412.3" y2="429.6" stroke="#111" stroke-width="1.35" />
<line x1="381.5" y1="371.3" x2="384.8" y2="371.3" stroke="#111" stroke-width="1" />
<text x="378.8" y="373.95" font-size="8.2" text-anchor="end" fill="#2a2a2a" stroke="#2a2a2a" stroke-width="0.16" textLength="8.3" lengthAdjust="spacingAndGlyphs">20</text>
<line x1="381.5" y1="400.45" x2="384.8" y2="400.45" stroke="#111" stroke-width="1" />
<text x="378.8" y="403.1" font-size="8.2" text-anchor="end" fill="#2a2a2a" stroke="#2a2a2a" stroke-width="0.16" textLength="8.3" lengthAdjust="spacingAndGlyphs">10</text>
<line x1="381.5" y1="429.6" x2="384.8" y2="429.6" stroke="#111" stroke-width="1" />
<text x="378.8" y="432.25" font-size="8.2" text-anchor="end" fill="#2a2a2a" stroke="#2a2a2a" stroke-width="0.16" textLength="4.15" lengthAdjust="spacingAndGlyphs">0</text>
<line x1="389.2" y1="429.6" x2="389.2" y2="432.5" stroke="#111" stroke-width="1" />
<line x1="398.3" y1="429.6" x2="398.3" y2="432.5" stroke="#111" stroke-width="1" />
<line x1="407.7" y1="429.6" x2="407.7" y2="432.5" stroke="#111" stroke-width="1" />
<text x="407.7" y="395.3" font-size="8" text-anchor="middle" fill="#222" stroke="#222" stroke-width="0.3">*</text>
<text x="389.2" y="441.6" font-size="7" text-anchor="middle" fill="#2a2a2a" stroke="#2a2a2a" stroke-width="0.25">-</text>
<text x="389.2" y="452.3" font-size="7" text-anchor="middle" fill="#2a2a2a" stroke="#2a2a2a" stroke-width="0.25">-</text>
<text x="398.3" y="442.65" font-size="6" text-anchor="middle" fill="#2a2a2a" stroke="#2a2a2a" stroke-width="0.28">+</text>
<text x="398.3" y="452.3" font-size="7" text-anchor="middle" fill="#2a2a2a" stroke="#2a2a2a" stroke-width="0.25">-</text>
<text x="407.7" y="442.65" font-size="6" text-anchor="middle" fill="#2a2a2a" stroke="#2a2a2a" stroke-width="0.28">+</text>
<text x="407.7" y="453.35" font-size="6" text-anchor="middle" fill="#2a2a2a" stroke="#2a2a2a" stroke-width="0.28">+</text>
<line x1="436.7" y1="413.2" x2="436.7" y2="416.1" stroke="#151515" stroke-width="1.15" />
<line x1="434.9" y1="413.2" x2="438.5" y2="413.2" stroke="#151515" stroke-width="1.15" />
<rect x="433.6" y="415.8" width="6.2" height="13.8" fill="#cdcbcd" />
<line x1="445.3" y1="381.6" x2="445.3" y2="384.1" stroke="#151515" stroke-width="1.15" />
<line x1="443.5" y1="381.6" x2="447.1" y2="381.6" stroke="#151515" stroke-width="1.15" />
<rect x="442.2" y="383.8" width="6.2" height="45.8" fill="#e08d1c" />
<line x1="454.3" y1="409" x2="454.3" y2="410.3" stroke="#151515" stroke-width="1.15" />
<line x1="452.5" y1="409" x2="456.1" y2="409" stroke="#151515" stroke-width="1.15" />
<rect x="451.2" y="410" width="6.2" height="19.6" fill="#5a9bd6" />
<line x1="431.8" y1="368.7" x2="431.8" y2="430.25" stroke="#111" stroke-width="1.35" />
<line x1="431.2" y1="429.6" x2="458.8" y2="429.6" stroke="#111" stroke-width="1.35" />
<line x1="428.5" y1="371.3" x2="431.8" y2="371.3" stroke="#111" stroke-width="1" />
<text x="425.8" y="373.95" font-size="8.2" text-anchor="end" fill="#2a2a2a" stroke="#2a2a2a" stroke-width="0.16" textLength="4.15" lengthAdjust="spacingAndGlyphs">4</text>
<line x1="428.5" y1="400.45" x2="431.8" y2="400.45" stroke="#111" stroke-width="1" />
<text x="425.8" y="403.1" font-size="8.2" text-anchor="end" fill="#2a2a2a" stroke="#2a2a2a" stroke-width="0.16" textLength="4.15" lengthAdjust="spacingAndGlyphs">2</text>
<line x1="428.5" y1="429.6" x2="431.8" y2="429.6" stroke="#111" stroke-width="1" />
<text x="425.8" y="432.25" font-size="8.2" text-anchor="end" fill="#2a2a2a" stroke="#2a2a2a" stroke-width="0.16" textLength="4.15" lengthAdjust="spacingAndGlyphs">0</text>
<line x1="436.7" y1="429.6" x2="436.7" y2="432.5" stroke="#111" stroke-width="1" />
<line x1="445.3" y1="429.6" x2="445.3" y2="432.5" stroke="#111" stroke-width="1" />
<line x1="454.3" y1="429.6" x2="454.3" y2="432.5" stroke="#111" stroke-width="1" />
<text x="454.3" y="409.1" font-size="8" text-anchor="middle" fill="#222" stroke="#222" stroke-width="0.3">*</text>
<text x="436.7" y="441.6" font-size="7" text-anchor="middle" fill="#2a2a2a" stroke="#2a2a2a" stroke-width="0.25">-</text>
<text x="436.7" y="452.3" font-size="7" text-anchor="middle" fill="#2a2a2a" stroke="#2a2a2a" stroke-width="0.25">-</text>
<text x="445.3" y="442.65" font-size="6" text-anchor="middle" fill="#2a2a2a" stroke="#2a2a2a" stroke-width="0.28">+</text>
<text x="445.3" y="452.3" font-size="7" text-anchor="middle" fill="#2a2a2a" stroke="#2a2a2a" stroke-width="0.25">-</text>
<text x="454.3" y="442.65" font-size="6" text-anchor="middle" fill="#2a2a2a" stroke="#2a2a2a" stroke-width="0.28">+</text>
<text x="454.3" y="453.35" font-size="6" text-anchor="middle" fill="#2a2a2a" stroke="#2a2a2a" stroke-width="0.28">+</text>
<line x1="487.95" y1="423" x2="487.95" y2="424.1" stroke="#151515" stroke-width="1.15" />
<line x1="486.15" y1="423" x2="489.75" y2="423" stroke="#151515" stroke-width="1.15" />
<rect x="484.85" y="423.8" width="6.2" height="5.8" fill="#cdcbcd" />
<line x1="497.25" y1="375" x2="497.25" y2="378.3" stroke="#151515" stroke-width="1.15" />
<line x1="495.45" y1="375" x2="499.05" y2="375" stroke="#151515" stroke-width="1.15" />
<rect x="494.15" y="378" width="6.2" height="51.6" fill="#e08d1c" />
<line x1="506.55" y1="388.4" x2="506.55" y2="389.8" stroke="#151515" stroke-width="1.15" />
<line x1="504.75" y1="388.4" x2="508.35" y2="388.4" stroke="#151515" stroke-width="1.15" />
<rect x="503.45" y="389.5" width="6.2" height="40.1" fill="#5a9bd6" />
<line x1="483.05" y1="367.6" x2="483.05" y2="430.25" stroke="#111" stroke-width="1.35" />
<line x1="482.45" y1="429.6" x2="513.45" y2="429.6" stroke="#111" stroke-width="1.35" />
<line x1="479.75" y1="370.2" x2="483.05" y2="370.2" stroke="#111" stroke-width="1" />
<text x="477.05" y="372.85" font-size="8.2" text-anchor="end" fill="#2a2a2a" stroke="#2a2a2a" stroke-width="0.16" textLength="8.3" lengthAdjust="spacingAndGlyphs">10</text>
<line x1="479.75" y1="399.6" x2="483.05" y2="399.6" stroke="#111" stroke-width="1" />
<text x="477.05" y="402.25" font-size="8.2" text-anchor="end" fill="#2a2a2a" stroke="#2a2a2a" stroke-width="0.16" textLength="4.15" lengthAdjust="spacingAndGlyphs">5</text>
<line x1="479.75" y1="429.6" x2="483.05" y2="429.6" stroke="#111" stroke-width="1" />
<text x="477.05" y="432.25" font-size="8.2" text-anchor="end" fill="#2a2a2a" stroke="#2a2a2a" stroke-width="0.16" textLength="4.15" lengthAdjust="spacingAndGlyphs">0</text>
<line x1="487.95" y1="429.6" x2="487.95" y2="432.5" stroke="#111" stroke-width="1" />
<line x1="497.25" y1="429.6" x2="497.25" y2="432.5" stroke="#111" stroke-width="1" />
<line x1="506.55" y1="429.6" x2="506.55" y2="432.5" stroke="#111" stroke-width="1" />
<text x="506.55" y="389.9" font-size="8" text-anchor="middle" fill="#222" stroke="#222" stroke-width="0.3">*</text>
<text x="487.95" y="441.6" font-size="7" text-anchor="middle" fill="#2a2a2a" stroke="#2a2a2a" stroke-width="0.25">-</text>
<text x="487.95" y="452.3" font-size="7" text-anchor="middle" fill="#2a2a2a" stroke="#2a2a2a" stroke-width="0.25">-</text>
<text x="497.25" y="442.65" font-size="6" text-anchor="middle" fill="#2a2a2a" stroke="#2a2a2a" stroke-width="0.28">+</text>
<text x="497.25" y="452.3" font-size="7" text-anchor="middle" fill="#2a2a2a" stroke="#2a2a2a" stroke-width="0.25">-</text>
<text x="506.55" y="442.65" font-size="6" text-anchor="middle" fill="#2a2a2a" stroke="#2a2a2a" stroke-width="0.28">+</text>
<text x="506.55" y="453.35" font-size="6" text-anchor="middle" fill="#2a2a2a" stroke="#2a2a2a" stroke-width="0.28">+</text>
<text x="183.2" y="442.6" font-size="7.3" text-anchor="end" fill="#2a2a2a" stroke="#2a2a2a" stroke-width="0.16">anti-BCR</text>
<text x="182.2" y="453.2" font-size="7.3" text-anchor="end" fill="#2a2a2a" stroke="#2a2a2a" stroke-width="0.16" textLength="27" lengthAdjust="spacingAndGlyphs">Ibrutinib</text>
<text x="155.1" y="399.2" font-size="9.8" text-anchor="middle" fill="#2a2a2a" stroke="#2a2a2a" stroke-width="0.22" textLength="26.3" lengthAdjust="spacingAndGlyphs" transform="rotate(-90 155.1 399.2)">p-CD19</text>
<text x="166" y="399.8" font-size="9.8" text-anchor="middle" fill="#2a2a2a" stroke="#2a2a2a" stroke-width="0.22" textLength="57.5" lengthAdjust="spacingAndGlyphs" transform="rotate(-90 166 399.8)">(normalized MFI)</text>
</g>
<g id="panelG">
<text x="132.9" y="482" font-size="11.6" font-weight="bold" fill="#000" stroke="#000" stroke-width="0.15">G</text>
<line x1="187.45" y1="514.8" x2="187.45" y2="516.1" stroke="#151515" stroke-width="1.15" />
<line x1="185.65" y1="514.8" x2="189.25" y2="514.8" stroke="#151515" stroke-width="1.15" />
<rect x="184.35" y="515.8" width="6.2" height="28.7" fill="#cdcbcd" />
<line x1="196.35" y1="495" x2="196.35" y2="498.3" stroke="#151515" stroke-width="1.15" />
<line x1="194.55" y1="495" x2="198.15" y2="495" stroke="#151515" stroke-width="1.15" />
<rect x="193.25" y="498" width="6.2" height="46.5" fill="#e08d1c" />
<line x1="205.3" y1="496" x2="205.3" y2="498.3" stroke="#151515" stroke-width="1.15" />
<line x1="203.5" y1="496" x2="207.1" y2="496" stroke="#151515" stroke-width="1.15" />
<rect x="202.2" y="498" width="6.2" height="46.5" fill="#5a9bd6" />
<line x1="182.85" y1="484.4" x2="182.85" y2="545.15" stroke="#111" stroke-width="1.35" />
<line x1="182.25" y1="544.5" x2="210.05" y2="544.5" stroke="#111" stroke-width="1.35" />
<line x1="179.55" y1="487" x2="182.85" y2="487" stroke="#111" stroke-width="1" />
<text x="176.85" y="489.65" font-size="8.2" text-anchor="end" fill="#2a2a2a" stroke="#2a2a2a" stroke-width="0.16" textLength="4.15" lengthAdjust="spacingAndGlyphs">2</text>
<line x1="179.55" y1="515.75" x2="182.85" y2="515.75" stroke="#111" stroke-width="1" />
<text x="176.85" y="518.4" font-size="8.2" text-anchor="end" fill="#2a2a2a" stroke="#2a2a2a" stroke-width="0.16" textLength="4.15" lengthAdjust="spacingAndGlyphs">1</text>
<line x1="179.55" y1="544.5" x2="182.85" y2="544.5" stroke="#111" stroke-width="1" />
<text x="176.85" y="547.15" font-size="8.2" text-anchor="end" fill="#2a2a2a" stroke="#2a2a2a" stroke-width="0.16" textLength="4.15" lengthAdjust="spacingAndGlyphs">0</text>
<line x1="187.45" y1="544.5" x2="187.45" y2="547.4" stroke="#111" stroke-width="1" />
<line x1="196.35" y1="544.5" x2="196.35" y2="547.4" stroke="#111" stroke-width="1" />
<line x1="205.3" y1="544.5" x2="205.3" y2="547.4" stroke="#111" stroke-width="1" />
<text x="187.45" y="556.8" font-size="7" text-anchor="middle" fill="#2a2a2a" stroke="#2a2a2a" stroke-width="0.25">-</text>
<text x="187.45" y="567.6" font-size="7" text-anchor="middle" fill="#2a2a2a" stroke="#2a2a2a" stroke-width="0.25">-</text>
<text x="196.35" y="557.85" font-size="6" text-anchor="middle" fill="#2a2a2a" stroke="#2a2a2a" stroke-width="0.28">+</text>
<text x="196.35" y="567.6" font-size="7" text-anchor="middle" fill="#2a2a2a" stroke="#2a2a2a" stroke-width="0.25">-</text>
<text x="205.3" y="557.85" font-size="6" text-anchor="middle" fill="#2a2a2a" stroke="#2a2a2a" stroke-width="0.28">+</text>
<text x="205.3" y="568.65" font-size="6" text-anchor="middle" fill="#2a2a2a" stroke="#2a2a2a" stroke-width="0.28">+</text>
<line x1="233.75" y1="520.5" x2="233.75" y2="521.6" stroke="#151515" stroke-width="1.15" />
<line x1="231.95" y1="520.5" x2="235.55" y2="520.5" stroke="#151515" stroke-width="1.15" />
<rect x="230.65" y="521.3" width="6.2" height="23.2" fill="#cdcbcd" />
<line x1="243.05" y1="494.5" x2="243.05" y2="502.8" stroke="#151515" stroke-width="1.15" />
<line x1="241.25" y1="494.5" x2="244.85" y2="494.5" stroke="#151515" stroke-width="1.15" />
<rect x="239.95" y="502.5" width="6.2" height="42" fill="#e08d1c" />
<line x1="252.05" y1="524" x2="252.05" y2="527.8" stroke="#151515" stroke-width="1.15" />
<line x1="250.25" y1="524" x2="253.85" y2="524" stroke="#151515" stroke-width="1.15" />
<rect x="248.95" y="527.5" width="6.2" height="17" fill="#5a9bd6" />
<line x1="229.45" y1="484.5" x2="229.45" y2="545.15" stroke="#111" stroke-width="1.35" />
<line x1="228.85" y1="544.5" x2="256.25" y2="544.5" stroke="#111" stroke-width="1.35" />
<line x1="226.15" y1="498.3" x2="229.45" y2="498.3" stroke="#111" stroke-width="1" />
<text x="223.45" y="500.95" font-size="8.2" text-anchor="end" fill="#2a2a2a" stroke="#2a2a2a" stroke-width="0.16" textLength="4.15" lengthAdjust="spacingAndGlyphs">2</text>
<line x1="226.15" y1="521.3" x2="229.45" y2="521.3" stroke="#111" stroke-width="1" />
<text x="223.45" y="523.95" font-size="8.2" text-anchor="end" fill="#2a2a2a" stroke="#2a2a2a" stroke-width="0.16" textLength="4.15" lengthAdjust="spacingAndGlyphs">1</text>
<line x1="226.15" y1="544.5" x2="229.45" y2="544.5" stroke="#111" stroke-width="1" />
<text x="223.45" y="547.15" font-size="8.2" text-anchor="end" fill="#2a2a2a" stroke="#2a2a2a" stroke-width="0.16" textLength="4.15" lengthAdjust="spacingAndGlyphs">0</text>
<line x1="233.75" y1="544.5" x2="233.75" y2="547.4" stroke="#111" stroke-width="1" />
<line x1="243.05" y1="544.5" x2="243.05" y2="547.4" stroke="#111" stroke-width="1" />
<line x1="252.05" y1="544.5" x2="252.05" y2="547.4" stroke="#111" stroke-width="1" />
<text x="252.05" y="522.7" font-size="8" text-anchor="middle" fill="#222" stroke="#222" stroke-width="0.3">*</text>
<text x="233.75" y="556.8" font-size="7" text-anchor="middle" fill="#2a2a2a" stroke="#2a2a2a" stroke-width="0.25">-</text>
<text x="233.75" y="567.6" font-size="7" text-anchor="middle" fill="#2a2a2a" stroke="#2a2a2a" stroke-width="0.25">-</text>
<text x="243.05" y="557.85" font-size="6" text-anchor="middle" fill="#2a2a2a" stroke="#2a2a2a" stroke-width="0.28">+</text>
<text x="243.05" y="567.6" font-size="7" text-anchor="middle" fill="#2a2a2a" stroke="#2a2a2a" stroke-width="0.25">-</text>
<text x="252.05" y="557.85" font-size="6" text-anchor="middle" fill="#2a2a2a" stroke="#2a2a2a" stroke-width="0.28">+</text>
<text x="252.05" y="568.65" font-size="6" text-anchor="middle" fill="#2a2a2a" stroke="#2a2a2a" stroke-width="0.28">+</text>
<line x1="285.05" y1="517.5" x2="285.05" y2="521.6" stroke="#151515" stroke-width="1.15" />
<line x1="283.25" y1="517.5" x2="286.85" y2="517.5" stroke="#151515" stroke-width="1.15" />
<rect x="281.95" y="521.3" width="6.2" height="23.2" fill="#cdcbcd" />
<line x1="293.95" y1="500.5" x2="293.95" y2="504.6" stroke="#151515" stroke-width="1.15" />
<line x1="292.15" y1="500.5" x2="295.75" y2="500.5" stroke="#151515" stroke-width="1.15" />
<rect x="290.85" y="504.3" width="6.2" height="40.2" fill="#e08d1c" />
<line x1="303.25" y1="501.3" x2="303.25" y2="506.1" stroke="#151515" stroke-width="1.15" />
<line x1="301.45" y1="501.3" x2="305.05" y2="501.3" stroke="#151515" stroke-width="1.15" />
<rect x="300.15" y="505.8" width="6.2" height="38.7" fill="#5a9bd6" />
<line x1="280.55" y1="484.5" x2="280.55" y2="545.15" stroke="#111" stroke-width="1.35" />
<line x1="279.95" y1="544.5" x2="307.45" y2="544.5" stroke="#111" stroke-width="1.35" />
<line x1="277.25" y1="498.3" x2="280.55" y2="498.3" stroke="#111" stroke-width="1" />
<text x="274.55" y="500.95" font-size="8.2" text-anchor="end" fill="#2a2a2a" stroke="#2a2a2a" stroke-width="0.16" textLength="4.15" lengthAdjust="spacingAndGlyphs">2</text>
<line x1="277.25" y1="521.3" x2="280.55" y2="521.3" stroke="#111" stroke-width="1" />
<text x="274.55" y="523.95" font-size="8.2" text-anchor="end" fill="#2a2a2a" stroke="#2a2a2a" stroke-width="0.16" textLength="4.15" lengthAdjust="spacingAndGlyphs">1</text>
<line x1="277.25" y1="544.5" x2="280.55" y2="544.5" stroke="#111" stroke-width="1" />
<text x="274.55" y="547.15" font-size="8.2" text-anchor="end" fill="#2a2a2a" stroke="#2a2a2a" stroke-width="0.16" textLength="4.15" lengthAdjust="spacingAndGlyphs">0</text>
<line x1="285.05" y1="544.5" x2="285.05" y2="547.4" stroke="#111" stroke-width="1" />
<line x1="293.95" y1="544.5" x2="293.95" y2="547.4" stroke="#111" stroke-width="1" />
<line x1="303.25" y1="544.5" x2="303.25" y2="547.4" stroke="#111" stroke-width="1" />
<text x="285.05" y="556.8" font-size="7" text-anchor="middle" fill="#2a2a2a" stroke="#2a2a2a" stroke-width="0.25">-</text>
<text x="285.05" y="567.6" font-size="7" text-anchor="middle" fill="#2a2a2a" stroke="#2a2a2a" stroke-width="0.25">-</text>
<text x="293.95" y="557.85" font-size="6" text-anchor="middle" fill="#2a2a2a" stroke="#2a2a2a" stroke-width="0.28">+</text>
<text x="293.95" y="567.6" font-size="7" text-anchor="middle" fill="#2a2a2a" stroke="#2a2a2a" stroke-width="0.25">-</text>
<text x="303.25" y="557.85" font-size="6" text-anchor="middle" fill="#2a2a2a" stroke="#2a2a2a" stroke-width="0.28">+</text>
<text x="303.25" y="568.65" font-size="6" text-anchor="middle" fill="#2a2a2a" stroke="#2a2a2a" stroke-width="0.28">+</text>
<line x1="338.2" y1="502.5" x2="338.2" y2="506.6" stroke="#151515" stroke-width="1.15" />
<line x1="336.4" y1="502.5" x2="340" y2="502.5" stroke="#151515" stroke-width="1.15" />
<rect x="335.1" y="506.3" width="6.2" height="38.2" fill="#cdcbcd" />
<line x1="347.3" y1="501.3" x2="347.3" y2="506.6" stroke="#151515" stroke-width="1.15" />
<line x1="345.5" y1="501.3" x2="349.1" y2="501.3" stroke="#151515" stroke-width="1.15" />
<rect x="344.2" y="506.3" width="6.2" height="38.2" fill="#e08d1c" />
<line x1="356.7" y1="491.3" x2="356.7" y2="493.6" stroke="#151515" stroke-width="1.15" />
<line x1="354.9" y1="491.3" x2="358.5" y2="491.3" stroke="#151515" stroke-width="1.15" />
<rect x="353.6" y="493.3" width="6.2" height="51.2" fill="#5a9bd6" />
<line x1="333.8" y1="484.4" x2="333.8" y2="545.15" stroke="#111" stroke-width="1.35" />
<line x1="333.2" y1="544.5" x2="361.3" y2="544.5" stroke="#111" stroke-width="1.35" />
<line x1="330.5" y1="487" x2="333.8" y2="487" stroke="#111" stroke-width="1" />
<text x="327.8" y="489.65" font-size="8.2" text-anchor="end" fill="#2a2a2a" stroke="#2a2a2a" stroke-width="0.16" textLength="10.45" lengthAdjust="spacingAndGlyphs">1.5</text>
<line x1="330.5" y1="506.17" x2="333.8" y2="506.17" stroke="#111" stroke-width="1" />
<text x="327.8" y="508.82" font-size="8.2" text-anchor="end" fill="#2a2a2a" stroke="#2a2a2a" stroke-width="0.16" textLength="4.15" lengthAdjust="spacingAndGlyphs">1</text>
<line x1="330.5" y1="525.33" x2="333.8" y2="525.33" stroke="#111" stroke-width="1" />
<text x="327.8" y="527.98" font-size="8.2" text-anchor="end" fill="#2a2a2a" stroke="#2a2a2a" stroke-width="0.16" textLength="10.45" lengthAdjust="spacingAndGlyphs">0.5</text>
<line x1="330.5" y1="544.5" x2="333.8" y2="544.5" stroke="#111" stroke-width="1" />
<text x="327.8" y="547.15" font-size="8.2" text-anchor="end" fill="#2a2a2a" stroke="#2a2a2a" stroke-width="0.16" textLength="4.15" lengthAdjust="spacingAndGlyphs">0</text>
<line x1="338.2" y1="544.5" x2="338.2" y2="547.4" stroke="#111" stroke-width="1" />
<line x1="347.3" y1="544.5" x2="347.3" y2="547.4" stroke="#111" stroke-width="1" />
<line x1="356.7" y1="544.5" x2="356.7" y2="547.4" stroke="#111" stroke-width="1" />
<text x="356.7" y="491.3" font-size="8" text-anchor="middle" fill="#222" stroke="#222" stroke-width="0.3">*</text>
<text x="338.2" y="556.8" font-size="7" text-anchor="middle" fill="#2a2a2a" stroke="#2a2a2a" stroke-width="0.25">-</text>
<text x="338.2" y="567.6" font-size="7" text-anchor="middle" fill="#2a2a2a" stroke="#2a2a2a" stroke-width="0.25">-</text>
<text x="347.3" y="557.85" font-size="6" text-anchor="middle" fill="#2a2a2a" stroke="#2a2a2a" stroke-width="0.28">+</text>
<text x="347.3" y="567.6" font-size="7" text-anchor="middle" fill="#2a2a2a" stroke="#2a2a2a" stroke-width="0.25">-</text>
<text x="356.7" y="557.85" font-size="6" text-anchor="middle" fill="#2a2a2a" stroke="#2a2a2a" stroke-width="0.28">+</text>
<text x="356.7" y="568.65" font-size="6" text-anchor="middle" fill="#2a2a2a" stroke="#2a2a2a" stroke-width="0.28">+</text>
<line x1="389.2" y1="529" x2="389.2" y2="530.3" stroke="#151515" stroke-width="1.15" />
<line x1="387.4" y1="529" x2="391" y2="529" stroke="#151515" stroke-width="1.15" />
<rect x="386.1" y="530" width="6.2" height="14.5" fill="#cdcbcd" />
<line x1="398.3" y1="493.3" x2="398.3" y2="498.3" stroke="#151515" stroke-width="1.15" />
<line x1="396.5" y1="493.3" x2="400.1" y2="493.3" stroke="#151515" stroke-width="1.15" />
<rect x="395.2" y="498" width="6.2" height="46.5" fill="#e08d1c" />
<line x1="407.7" y1="499.5" x2="407.7" y2="502.1" stroke="#151515" stroke-width="1.15" />
<line x1="405.9" y1="499.5" x2="409.5" y2="499.5" stroke="#151515" stroke-width="1.15" />
<rect x="404.6" y="501.8" width="6.2" height="42.7" fill="#5a9bd6" />
<line x1="384.8" y1="484.4" x2="384.8" y2="545.15" stroke="#111" stroke-width="1.35" />
<line x1="384.2" y1="544.5" x2="412.3" y2="544.5" stroke="#111" stroke-width="1.35" />
<line x1="381.5" y1="487" x2="384.8" y2="487" stroke="#111" stroke-width="1" />
<text x="378.8" y="489.65" font-size="8.2" text-anchor="end" fill="#2a2a2a" stroke="#2a2a2a" stroke-width="0.16" textLength="4.15" lengthAdjust="spacingAndGlyphs">4</text>
<line x1="381.5" y1="515.75" x2="384.8" y2="515.75" stroke="#111" stroke-width="1" />
<text x="378.8" y="518.4" font-size="8.2" text-anchor="end" fill="#2a2a2a" stroke="#2a2a2a" stroke-width="0.16" textLength="4.15" lengthAdjust="spacingAndGlyphs">2</text>
<line x1="381.5" y1="544.5" x2="384.8" y2="544.5" stroke="#111" stroke-width="1" />
<text x="378.8" y="547.15" font-size="8.2" text-anchor="end" fill="#2a2a2a" stroke="#2a2a2a" stroke-width="0.16" textLength="4.15" lengthAdjust="spacingAndGlyphs">0</text>
<line x1="389.2" y1="544.5" x2="389.2" y2="547.4" stroke="#111" stroke-width="1" />
<line x1="398.3" y1="544.5" x2="398.3" y2="547.4" stroke="#111" stroke-width="1" />
<line x1="407.7" y1="544.5" x2="407.7" y2="547.4" stroke="#111" stroke-width="1" />
<text x="389.2" y="556.8" font-size="7" text-anchor="middle" fill="#2a2a2a" stroke="#2a2a2a" stroke-width="0.25">-</text>
<text x="389.2" y="567.6" font-size="7" text-anchor="middle" fill="#2a2a2a" stroke="#2a2a2a" stroke-width="0.25">-</text>
<text x="398.3" y="557.85" font-size="6" text-anchor="middle" fill="#2a2a2a" stroke="#2a2a2a" stroke-width="0.28">+</text>
<text x="398.3" y="567.6" font-size="7" text-anchor="middle" fill="#2a2a2a" stroke="#2a2a2a" stroke-width="0.25">-</text>
<text x="407.7" y="557.85" font-size="6" text-anchor="middle" fill="#2a2a2a" stroke="#2a2a2a" stroke-width="0.28">+</text>
<text x="407.7" y="568.65" font-size="6" text-anchor="middle" fill="#2a2a2a" stroke="#2a2a2a" stroke-width="0.28">+</text>
<line x1="436.7" y1="530" x2="436.7" y2="537.1" stroke="#151515" stroke-width="1.15" />
<line x1="434.9" y1="530" x2="438.5" y2="530" stroke="#151515" stroke-width="1.15" />
<rect x="433.6" y="536.8" width="6.2" height="7.7" fill="#cdcbcd" />
<line x1="445.3" y1="491.3" x2="445.3" y2="497.3" stroke="#151515" stroke-width="1.15" />
<line x1="443.5" y1="491.3" x2="447.1" y2="491.3" stroke="#151515" stroke-width="1.15" />
<rect x="442.2" y="497" width="6.2" height="47.5" fill="#e08d1c" />
<line x1="454.3" y1="494.3" x2="454.3" y2="499.1" stroke="#151515" stroke-width="1.15" />
<line x1="452.5" y1="494.3" x2="456.1" y2="494.3" stroke="#151515" stroke-width="1.15" />
<rect x="451.2" y="498.8" width="6.2" height="45.7" fill="#5a9bd6" />
<line x1="431.8" y1="484.5" x2="431.8" y2="545.15" stroke="#111" stroke-width="1.35" />
<line x1="431.2" y1="544.5" x2="458.8" y2="544.5" stroke="#111" stroke-width="1.35" />
<line x1="428.5" y1="498.3" x2="431.8" y2="498.3" stroke="#111" stroke-width="1" />
<text x="425.8" y="500.95" font-size="8.2" text-anchor="end" fill="#2a2a2a" stroke="#2a2a2a" stroke-width="0.16" textLength="4.15" lengthAdjust="spacingAndGlyphs">4</text>
<line x1="428.5" y1="521.3" x2="431.8" y2="521.3" stroke="#111" stroke-width="1" />
<text x="425.8" y="523.95" font-size="8.2" text-anchor="end" fill="#2a2a2a" stroke="#2a2a2a" stroke-width="0.16" textLength="4.15" lengthAdjust="spacingAndGlyphs">2</text>
<line x1="428.5" y1="544.5" x2="431.8" y2="544.5" stroke="#111" stroke-width="1" />
<text x="425.8" y="547.15" font-size="8.2" text-anchor="end" fill="#2a2a2a" stroke="#2a2a2a" stroke-width="0.16" textLength="4.15" lengthAdjust="spacingAndGlyphs">0</text>
<line x1="436.7" y1="544.5" x2="436.7" y2="547.4" stroke="#111" stroke-width="1" />
<line x1="445.3" y1="544.5" x2="445.3" y2="547.4" stroke="#111" stroke-width="1" />
<line x1="454.3" y1="544.5" x2="454.3" y2="547.4" stroke="#111" stroke-width="1" />
<text x="436.7" y="556.8" font-size="7" text-anchor="middle" fill="#2a2a2a" stroke="#2a2a2a" stroke-width="0.25">-</text>
<text x="436.7" y="567.6" font-size="7" text-anchor="middle" fill="#2a2a2a" stroke="#2a2a2a" stroke-width="0.25">-</text>
<text x="445.3" y="557.85" font-size="6" text-anchor="middle" fill="#2a2a2a" stroke="#2a2a2a" stroke-width="0.28">+</text>
<text x="445.3" y="567.6" font-size="7" text-anchor="middle" fill="#2a2a2a" stroke="#2a2a2a" stroke-width="0.25">-</text>
<text x="454.3" y="557.85" font-size="6" text-anchor="middle" fill="#2a2a2a" stroke="#2a2a2a" stroke-width="0.28">+</text>
<text x="454.3" y="568.65" font-size="6" text-anchor="middle" fill="#2a2a2a" stroke="#2a2a2a" stroke-width="0.28">+</text>
<line x1="487.95" y1="514.5" x2="487.95" y2="517.1" stroke="#151515" stroke-width="1.15" />
<line x1="486.15" y1="514.5" x2="489.75" y2="514.5" stroke="#151515" stroke-width="1.15" />
<rect x="484.85" y="516.8" width="6.2" height="27.7" fill="#cdcbcd" />
<line x1="497.25" y1="498.8" x2="497.25" y2="502.1" stroke="#151515" stroke-width="1.15" />
<line x1="495.45" y1="498.8" x2="499.05" y2="498.8" stroke="#151515" stroke-width="1.15" />
<rect x="494.15" y="501.8" width="6.2" height="42.7" fill="#e08d1c" />
<line x1="506.55" y1="501" x2="506.55" y2="502.1" stroke="#151515" stroke-width="1.15" />
<line x1="504.75" y1="501" x2="508.35" y2="501" stroke="#151515" stroke-width="1.15" />
<rect x="503.45" y="501.8" width="6.2" height="42.7" fill="#5a9bd6" />
<line x1="483.05" y1="484.4" x2="483.05" y2="545.15" stroke="#111" stroke-width="1.35" />
<line x1="482.45" y1="544.5" x2="513.45" y2="544.5" stroke="#111" stroke-width="1.35" />
<line x1="479.75" y1="487" x2="483.05" y2="487" stroke="#111" stroke-width="1" />
<text x="477.05" y="489.65" font-size="8.2" text-anchor="end" fill="#2a2a2a" stroke="#2a2a2a" stroke-width="0.16" textLength="4.15" lengthAdjust="spacingAndGlyphs">2</text>
<line x1="479.75" y1="515.75" x2="483.05" y2="515.75" stroke="#111" stroke-width="1" />
<text x="477.05" y="518.4" font-size="8.2" text-anchor="end" fill="#2a2a2a" stroke="#2a2a2a" stroke-width="0.16" textLength="4.15" lengthAdjust="spacingAndGlyphs">1</text>
<line x1="479.75" y1="544.5" x2="483.05" y2="544.5" stroke="#111" stroke-width="1" />
<text x="477.05" y="547.15" font-size="8.2" text-anchor="end" fill="#2a2a2a" stroke="#2a2a2a" stroke-width="0.16" textLength="4.15" lengthAdjust="spacingAndGlyphs">0</text>
<line x1="487.95" y1="544.5" x2="487.95" y2="547.4" stroke="#111" stroke-width="1" />
<line x1="497.25" y1="544.5" x2="497.25" y2="547.4" stroke="#111" stroke-width="1" />
<line x1="506.55" y1="544.5" x2="506.55" y2="547.4" stroke="#111" stroke-width="1" />
<text x="487.95" y="556.8" font-size="7" text-anchor="middle" fill="#2a2a2a" stroke="#2a2a2a" stroke-width="0.25">-</text>
<text x="487.95" y="567.6" font-size="7" text-anchor="middle" fill="#2a2a2a" stroke="#2a2a2a" stroke-width="0.25">-</text>
<text x="497.25" y="557.85" font-size="6" text-anchor="middle" fill="#2a2a2a" stroke="#2a2a2a" stroke-width="0.28">+</text>
<text x="497.25" y="567.6" font-size="7" text-anchor="middle" fill="#2a2a2a" stroke="#2a2a2a" stroke-width="0.25">-</text>
<text x="506.55" y="557.85" font-size="6" text-anchor="middle" fill="#2a2a2a" stroke="#2a2a2a" stroke-width="0.28">+</text>
<text x="506.55" y="568.65" font-size="6" text-anchor="middle" fill="#2a2a2a" stroke="#2a2a2a" stroke-width="0.28">+</text>
<text x="183.2" y="557.8" font-size="7.3" text-anchor="end" fill="#2a2a2a" stroke="#2a2a2a" stroke-width="0.16">anti-BCR</text>
<text x="182.2" y="568.5" font-size="7.3" text-anchor="end" fill="#2a2a2a" stroke="#2a2a2a" stroke-width="0.16" textLength="27" lengthAdjust="spacingAndGlyphs">Ibrutinib</text>
<text x="154.6" y="514.2" font-size="9.8" text-anchor="middle" fill="#2a2a2a" stroke="#2a2a2a" stroke-width="0.22" textLength="28.7" lengthAdjust="spacingAndGlyphs" transform="rotate(-90 154.6 514.2)">p-GSK3β</text>
<text x="166.5" y="514.3" font-size="9.8" text-anchor="middle" fill="#2a2a2a" stroke="#2a2a2a" stroke-width="0.22" textLength="57.5" lengthAdjust="spacingAndGlyphs" transform="rotate(-90 166.5 514.3)">(normalized MFI)</text>
</g>
<path d="M0 0H520V585H0Z M1.4 1.15V583.7H518.6V1.15Z" fill="#000" fill-rule="evenodd"/>
</svg>
</body>
</html>
